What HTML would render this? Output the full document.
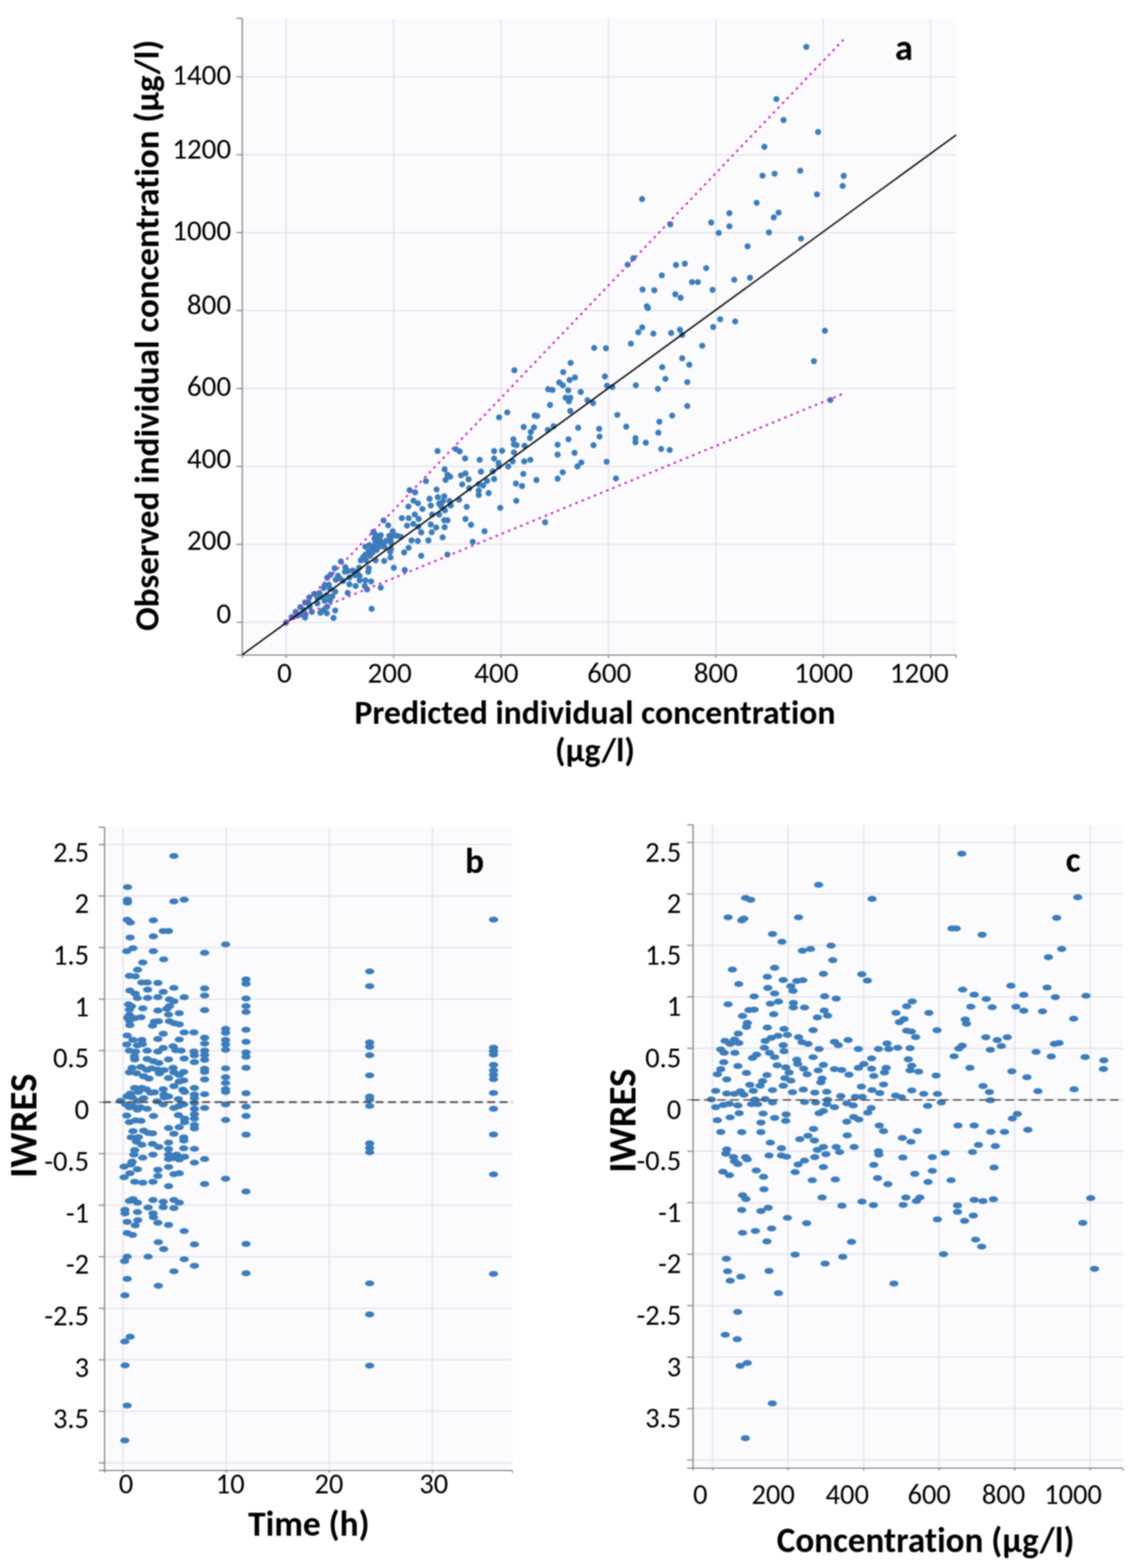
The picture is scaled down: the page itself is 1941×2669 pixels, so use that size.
<!DOCTYPE html>
<html><head><meta charset="utf-8"><title>Figure</title>
<style>html,body{margin:0;padding:0;background:#fff;} svg{display:block;filter:blur(1px);} text{font-family:Carlito, "Liberation Sans", sans-serif;fill:#000;font-variant-ligatures:none;font-feature-settings:'liga' 0;}</style>
</head><body>
<svg xmlns="http://www.w3.org/2000/svg" width="1941" height="2669" viewBox="0 0 1941 2669">
<rect width="1941" height="2669" fill="#fff"/>
<rect x="412.5" y="31" width="1215.5" height="1084" fill="#fbfbfd"/>
<line x1="487.3" y1="31" x2="487.3" y2="1115" stroke="#e2e2e8" stroke-width="2"/>
<line x1="670.2" y1="31" x2="670.2" y2="1115" stroke="#e2e2e8" stroke-width="2"/>
<line x1="853.1" y1="31" x2="853.1" y2="1115" stroke="#e2e2e8" stroke-width="2"/>
<line x1="1035.9" y1="31" x2="1035.9" y2="1115" stroke="#e2e2e8" stroke-width="2"/>
<line x1="1218.8" y1="31" x2="1218.8" y2="1115" stroke="#e2e2e8" stroke-width="2"/>
<line x1="1401.7" y1="31" x2="1401.7" y2="1115" stroke="#e2e2e8" stroke-width="2"/>
<line x1="1584.6" y1="31" x2="1584.6" y2="1115" stroke="#e2e2e8" stroke-width="2"/>
<line x1="412.5" y1="1059.2" x2="1628" y2="1059.2" stroke="#e2e2e8" stroke-width="2"/>
<line x1="412.5" y1="926.6" x2="1628" y2="926.6" stroke="#e2e2e8" stroke-width="2"/>
<line x1="412.5" y1="793.9" x2="1628" y2="793.9" stroke="#e2e2e8" stroke-width="2"/>
<line x1="412.5" y1="661.3" x2="1628" y2="661.3" stroke="#e2e2e8" stroke-width="2"/>
<line x1="412.5" y1="528.6" x2="1628" y2="528.6" stroke="#e2e2e8" stroke-width="2"/>
<line x1="412.5" y1="396.0" x2="1628" y2="396.0" stroke="#e2e2e8" stroke-width="2"/>
<line x1="412.5" y1="263.4" x2="1628" y2="263.4" stroke="#e2e2e8" stroke-width="2"/>
<line x1="412.5" y1="130.7" x2="1628" y2="130.7" stroke="#e2e2e8" stroke-width="2"/>
<line x1="412.5" y1="31" x2="412.5" y2="1115" stroke="#878787" stroke-width="2.2"/>
<line x1="412.5" y1="1115" x2="1628" y2="1115" stroke="#878787" stroke-width="2.2"/>
<line x1="402.5" y1="31.0" x2="412.5" y2="31.0" stroke="#878787" stroke-width="2"/>
<line x1="402.5" y1="1059.2" x2="412.5" y2="1059.2" stroke="#878787" stroke-width="2"/>
<line x1="402.5" y1="926.6" x2="412.5" y2="926.6" stroke="#878787" stroke-width="2"/>
<line x1="402.5" y1="793.9" x2="412.5" y2="793.9" stroke="#878787" stroke-width="2"/>
<line x1="402.5" y1="661.3" x2="412.5" y2="661.3" stroke="#878787" stroke-width="2"/>
<line x1="402.5" y1="528.6" x2="412.5" y2="528.6" stroke="#878787" stroke-width="2"/>
<line x1="402.5" y1="396.0" x2="412.5" y2="396.0" stroke="#878787" stroke-width="2"/>
<line x1="402.5" y1="263.4" x2="412.5" y2="263.4" stroke="#878787" stroke-width="2"/>
<line x1="402.5" y1="130.7" x2="412.5" y2="130.7" stroke="#878787" stroke-width="2"/>
<line x1="402.5" y1="1115.0" x2="412.5" y2="1115.0" stroke="#878787" stroke-width="2"/>
<line x1="412.5" y1="1115" x2="412.5" y2="1120" stroke="#878787" stroke-width="2"/>
<line x1="487.3" y1="1115" x2="487.3" y2="1120" stroke="#878787" stroke-width="2"/>
<line x1="670.2" y1="1115" x2="670.2" y2="1120" stroke="#878787" stroke-width="2"/>
<line x1="853.1" y1="1115" x2="853.1" y2="1120" stroke="#878787" stroke-width="2"/>
<line x1="1035.9" y1="1115" x2="1035.9" y2="1120" stroke="#878787" stroke-width="2"/>
<line x1="1218.8" y1="1115" x2="1218.8" y2="1120" stroke="#878787" stroke-width="2"/>
<line x1="1401.7" y1="1115" x2="1401.7" y2="1120" stroke="#878787" stroke-width="2"/>
<line x1="1584.6" y1="1115" x2="1584.6" y2="1120" stroke="#878787" stroke-width="2"/>
<line x1="1628.0" y1="1115" x2="1628.0" y2="1120" stroke="#878787" stroke-width="2"/>
<g fill="#3c7cba">
<circle cx="486.9" cy="1059.7" r="5.2"/>
<circle cx="496.7" cy="1050.2" r="5.2"/>
<circle cx="503.3" cy="1041.5" r="5.2"/>
<circle cx="511.3" cy="1033.5" r="5.2"/>
<circle cx="519.3" cy="1025.5" r="5.2"/>
<circle cx="526.6" cy="1016.8" r="5.2"/>
<circle cx="519.3" cy="1051.0" r="5.2"/>
<circle cx="520.0" cy="1045.9" r="5.2"/>
<circle cx="530.9" cy="1041.5" r="5.2"/>
<circle cx="527.3" cy="1032.8" r="5.2"/>
<circle cx="534.6" cy="1010.9" r="5.2"/>
<circle cx="540.4" cy="1027.0" r="5.2"/>
<circle cx="544.0" cy="1009.5" r="5.2"/>
<circle cx="551.3" cy="1000.8" r="5.2"/>
<circle cx="552.8" cy="996.4" r="5.2"/>
<circle cx="557.1" cy="983.3" r="5.2"/>
<circle cx="552.8" cy="1022.6" r="5.2"/>
<circle cx="557.1" cy="1032.8" r="5.2"/>
<circle cx="545.5" cy="1043.0" r="5.2"/>
<circle cx="556.4" cy="1043.7" r="5.2"/>
<circle cx="549.9" cy="1038.6" r="5.2"/>
<circle cx="525.1" cy="1025.5" r="5.2"/>
<circle cx="512.0" cy="1045.9" r="5.2"/>
<circle cx="653.1" cy="885.8" r="5.2"/>
<circle cx="660.9" cy="894.1" r="5.2"/>
<circle cx="635.7" cy="905.2" r="5.2"/>
<circle cx="648.3" cy="911.0" r="5.2"/>
<circle cx="668.7" cy="904.3" r="5.2"/>
<circle cx="662.9" cy="912.0" r="5.2"/>
<circle cx="676.4" cy="912.0" r="5.2"/>
<circle cx="637.6" cy="916.9" r="5.2"/>
<circle cx="647.3" cy="921.7" r="5.2"/>
<circle cx="657.0" cy="920.8" r="5.2"/>
<circle cx="622.1" cy="930.5" r="5.2"/>
<circle cx="635.7" cy="930.5" r="5.2"/>
<circle cx="645.4" cy="930.5" r="5.2"/>
<circle cx="653.1" cy="928.5" r="5.2"/>
<circle cx="665.8" cy="934.3" r="5.2"/>
<circle cx="665.8" cy="923.7" r="5.2"/>
<circle cx="627.9" cy="938.2" r="5.2"/>
<circle cx="622.1" cy="944.0" r="5.2"/>
<circle cx="629.9" cy="946.0" r="5.2"/>
<circle cx="614.3" cy="953.7" r="5.2"/>
<circle cx="639.6" cy="953.7" r="5.2"/>
<circle cx="623.1" cy="953.7" r="5.2"/>
<circle cx="664.8" cy="948.9" r="5.2"/>
<circle cx="654.1" cy="954.7" r="5.2"/>
<circle cx="670.6" cy="966.4" r="5.2"/>
<circle cx="689.1" cy="970.2" r="5.2"/>
<circle cx="627.9" cy="967.3" r="5.2"/>
<circle cx="627.0" cy="973.1" r="5.2"/>
<circle cx="611.4" cy="966.4" r="5.2"/>
<circle cx="600.8" cy="971.2" r="5.2"/>
<circle cx="588.1" cy="965.4" r="5.2"/>
<circle cx="587.2" cy="973.1" r="5.2"/>
<circle cx="580.4" cy="955.7" r="5.2"/>
<circle cx="569.7" cy="967.3" r="5.2"/>
<circle cx="562.9" cy="978.0" r="5.2"/>
<circle cx="575.5" cy="979.9" r="5.2"/>
<circle cx="571.6" cy="986.7" r="5.2"/>
<circle cx="584.3" cy="988.7" r="5.2"/>
<circle cx="594.9" cy="982.9" r="5.2"/>
<circle cx="604.6" cy="979.0" r="5.2"/>
<circle cx="612.4" cy="987.7" r="5.2"/>
<circle cx="622.1" cy="987.7" r="5.2"/>
<circle cx="631.8" cy="989.6" r="5.2"/>
<circle cx="594.9" cy="994.5" r="5.2"/>
<circle cx="605.6" cy="997.4" r="5.2"/>
<circle cx="621.1" cy="997.4" r="5.2"/>
<circle cx="625.0" cy="1003.2" r="5.2"/>
<circle cx="648.3" cy="1000.3" r="5.2"/>
<circle cx="592.0" cy="1009.1" r="5.2"/>
<circle cx="570.7" cy="1007.1" r="5.2"/>
<circle cx="565.8" cy="1014.9" r="5.2"/>
<circle cx="561.9" cy="1021.7" r="5.2"/>
<circle cx="570.7" cy="1039.1" r="5.2"/>
<circle cx="567.8" cy="1051.7" r="5.2"/>
<circle cx="632.8" cy="1036.2" r="5.2"/>
<circle cx="695.8" cy="932.4" r="5.2"/>
<circle cx="688.1" cy="940.2" r="5.2"/>
<circle cx="700.7" cy="919.8" r="5.2"/>
<circle cx="711.4" cy="920.8" r="5.2"/>
<circle cx="717.2" cy="946.0" r="5.2"/>
<circle cx="692.9" cy="894.6" r="5.2"/>
<circle cx="703.6" cy="891.6" r="5.2"/>
<circle cx="712.3" cy="896.5" r="5.2"/>
<circle cx="684.2" cy="881.9" r="5.2"/>
<circle cx="695.8" cy="881.9" r="5.2"/>
<circle cx="717.2" cy="906.2" r="5.2"/>
<circle cx="745.0" cy="767.6" r="5.2"/>
<circle cx="776.1" cy="764.4" r="5.2"/>
<circle cx="782.6" cy="768.2" r="5.2"/>
<circle cx="791.9" cy="780.2" r="5.2"/>
<circle cx="757.0" cy="798.8" r="5.2"/>
<circle cx="761.9" cy="808.0" r="5.2"/>
<circle cx="766.3" cy="811.3" r="5.2"/>
<circle cx="758.6" cy="816.8" r="5.2"/>
<circle cx="784.8" cy="809.1" r="5.2"/>
<circle cx="792.5" cy="805.8" r="5.2"/>
<circle cx="797.9" cy="815.7" r="5.2"/>
<circle cx="787.0" cy="824.4" r="5.2"/>
<circle cx="799.0" cy="831.0" r="5.2"/>
<circle cx="725.3" cy="818.9" r="5.2"/>
<circle cx="743.3" cy="833.1" r="5.2"/>
<circle cx="697.5" cy="834.2" r="5.2"/>
<circle cx="706.8" cy="838.0" r="5.2"/>
<circle cx="731.3" cy="849.0" r="5.2"/>
<circle cx="745.5" cy="846.2" r="5.2"/>
<circle cx="756.4" cy="844.6" r="5.2"/>
<circle cx="754.3" cy="852.8" r="5.2"/>
<circle cx="747.7" cy="857.2" r="5.2"/>
<circle cx="751.0" cy="861.5" r="5.2"/>
<circle cx="765.2" cy="852.8" r="5.2"/>
<circle cx="767.4" cy="860.4" r="5.2"/>
<circle cx="781.6" cy="850.6" r="5.2"/>
<circle cx="794.7" cy="862.6" r="5.2"/>
<circle cx="704.1" cy="852.2" r="5.2"/>
<circle cx="711.7" cy="856.6" r="5.2"/>
<circle cx="695.3" cy="862.1" r="5.2"/>
<circle cx="719.3" cy="866.4" r="5.2"/>
<circle cx="733.5" cy="860.4" r="5.2"/>
<circle cx="757.5" cy="868.6" r="5.2"/>
<circle cx="735.7" cy="875.7" r="5.2"/>
<circle cx="747.7" cy="875.7" r="5.2"/>
<circle cx="706.2" cy="875.7" r="5.2"/>
<circle cx="712.8" cy="883.3" r="5.2"/>
<circle cx="756.4" cy="885.5" r="5.2"/>
<circle cx="761.9" cy="885.5" r="5.2"/>
<circle cx="792.5" cy="883.3" r="5.2"/>
<circle cx="733.4" cy="892.7" r="5.2"/>
<circle cx="742.7" cy="897.9" r="5.2"/>
<circle cx="757.1" cy="897.3" r="5.2"/>
<circle cx="735.2" cy="905.9" r="5.2"/>
<circle cx="729.4" cy="919.8" r="5.2"/>
<circle cx="753.6" cy="914.6" r="5.2"/>
<circle cx="802.0" cy="893.3" r="5.2"/>
<circle cx="825.0" cy="904.2" r="5.2"/>
<circle cx="804.9" cy="922.1" r="5.2"/>
<circle cx="761.7" cy="943.9" r="5.2"/>
<circle cx="874.1" cy="747.6" r="5.2"/>
<circle cx="875.1" cy="756.4" r="5.2"/>
<circle cx="879.5" cy="757.5" r="5.2"/>
<circle cx="902.4" cy="745.5" r="5.2"/>
<circle cx="893.2" cy="758.6" r="5.2"/>
<circle cx="949.4" cy="756.9" r="5.2"/>
<circle cx="967.9" cy="747.6" r="5.2"/>
<circle cx="949.4" cy="773.8" r="5.2"/>
<circle cx="841.3" cy="767.8" r="5.2"/>
<circle cx="854.9" cy="767.3" r="5.2"/>
<circle cx="875.1" cy="770.0" r="5.2"/>
<circle cx="816.7" cy="782.6" r="5.2"/>
<circle cx="841.3" cy="780.4" r="5.2"/>
<circle cx="848.9" cy="788.0" r="5.2"/>
<circle cx="849.5" cy="793.5" r="5.2"/>
<circle cx="873.0" cy="785.3" r="5.2"/>
<circle cx="892.6" cy="785.3" r="5.2"/>
<circle cx="903.0" cy="782.6" r="5.2"/>
<circle cx="865.3" cy="794.0" r="5.2"/>
<circle cx="818.9" cy="802.8" r="5.2"/>
<circle cx="839.1" cy="802.2" r="5.2"/>
<circle cx="829.3" cy="818.6" r="5.2"/>
<circle cx="841.3" cy="815.3" r="5.2"/>
<circle cx="822.7" cy="826.2" r="5.2"/>
<circle cx="815.1" cy="824.1" r="5.2"/>
<circle cx="815.1" cy="835.0" r="5.2"/>
<circle cx="815.1" cy="842.6" r="5.2"/>
<circle cx="832.0" cy="839.3" r="5.2"/>
<circle cx="891.0" cy="806.6" r="5.2"/>
<circle cx="913.3" cy="817.0" r="5.2"/>
<circle cx="878.4" cy="823.0" r="5.2"/>
<circle cx="888.8" cy="827.3" r="5.2"/>
<circle cx="958.1" cy="803.9" r="5.2"/>
<circle cx="949.4" cy="814.8" r="5.2"/>
<circle cx="879.0" cy="852.4" r="5.2"/>
<circle cx="851.7" cy="864.4" r="5.2"/>
<circle cx="928.1" cy="889.0" r="5.2"/>
<circle cx="875.8" cy="630.3" r="5.2"/>
<circle cx="971.6" cy="617.6" r="5.2"/>
<circle cx="958.9" cy="633.4" r="5.2"/>
<circle cx="978.9" cy="642.5" r="5.2"/>
<circle cx="969.8" cy="646.7" r="5.2"/>
<circle cx="952.2" cy="651.0" r="5.2"/>
<circle cx="958.3" cy="655.8" r="5.2"/>
<circle cx="933.4" cy="662.5" r="5.2"/>
<circle cx="940.7" cy="663.7" r="5.2"/>
<circle cx="967.4" cy="664.3" r="5.2"/>
<circle cx="963.1" cy="677.0" r="5.2"/>
<circle cx="971.0" cy="677.0" r="5.2"/>
<circle cx="968.6" cy="683.1" r="5.2"/>
<circle cx="936.5" cy="689.2" r="5.2"/>
<circle cx="971.0" cy="699.5" r="5.2"/>
<circle cx="863.7" cy="701.9" r="5.2"/>
<circle cx="849.7" cy="710.4" r="5.2"/>
<circle cx="910.4" cy="707.3" r="5.2"/>
<circle cx="914.6" cy="708.0" r="5.2"/>
<circle cx="891.6" cy="726.8" r="5.2"/>
<circle cx="909.2" cy="727.4" r="5.2"/>
<circle cx="903.7" cy="735.2" r="5.2"/>
<circle cx="942.5" cy="725.5" r="5.2"/>
<circle cx="932.8" cy="731.6" r="5.2"/>
<circle cx="669.7" cy="911.2" r="5.2"/>
<circle cx="682.5" cy="913.7" r="5.2"/>
<circle cx="638.8" cy="910.0" r="5.2"/>
<circle cx="639.4" cy="922.7" r="5.2"/>
<circle cx="629.1" cy="927.6" r="5.2"/>
<circle cx="634.0" cy="934.9" r="5.2"/>
<circle cx="641.2" cy="936.1" r="5.2"/>
<circle cx="664.3" cy="939.1" r="5.2"/>
<circle cx="634.0" cy="940.9" r="5.2"/>
<circle cx="618.2" cy="948.2" r="5.2"/>
<circle cx="560.0" cy="995.2" r="5.2"/>
<circle cx="561.9" cy="1002.4" r="5.2"/>
<circle cx="546.7" cy="1015.8" r="5.2"/>
<circle cx="556.4" cy="1013.4" r="5.2"/>
<circle cx="517.6" cy="1038.2" r="5.2"/>
<circle cx="506.1" cy="1047.9" r="5.2"/>
<circle cx="540.6" cy="1018.2" r="5.2"/>
<circle cx="1086.9" cy="565.5" r="5.2"/>
<circle cx="1112.4" cy="567.9" r="5.2"/>
<circle cx="1142.7" cy="566.7" r="5.2"/>
<circle cx="1161.5" cy="569.7" r="5.2"/>
<circle cx="1074.2" cy="584.9" r="5.2"/>
<circle cx="1011.7" cy="592.1" r="5.2"/>
<circle cx="1031.7" cy="592.7" r="5.2"/>
<circle cx="1161.5" cy="609.7" r="5.2"/>
<circle cx="1127.5" cy="624.9" r="5.2"/>
<circle cx="1133.0" cy="644.9" r="5.2"/>
<circle cx="1029.9" cy="640.7" r="5.2"/>
<circle cx="1033.5" cy="656.4" r="5.2"/>
<circle cx="1042.6" cy="658.8" r="5.2"/>
<circle cx="1082.6" cy="655.8" r="5.2"/>
<circle cx="1120.2" cy="661.9" r="5.2"/>
<circle cx="988.7" cy="667.3" r="5.2"/>
<circle cx="1000.2" cy="681.3" r="5.2"/>
<circle cx="1009.9" cy="686.1" r="5.2"/>
<circle cx="1051.1" cy="706.1" r="5.2"/>
<circle cx="1144.5" cy="707.4" r="5.2"/>
<circle cx="1122.7" cy="717.7" r="5.2"/>
<circle cx="1066.3" cy="726.2" r="5.2"/>
<circle cx="984.4" cy="728.0" r="5.2"/>
<circle cx="1020.2" cy="729.8" r="5.2"/>
<circle cx="1020.8" cy="743.1" r="5.2"/>
<circle cx="1120.9" cy="736.5" r="5.2"/>
<circle cx="1082.0" cy="745.6" r="5.2"/>
<circle cx="1082.0" cy="752.8" r="5.2"/>
<circle cx="1099.6" cy="753.5" r="5.2"/>
<circle cx="1010.5" cy="757.7" r="5.2"/>
<circle cx="978.3" cy="770.8" r="5.2"/>
<circle cx="989.9" cy="787.1" r="5.2"/>
<circle cx="983.2" cy="793.8" r="5.2"/>
<circle cx="1032.9" cy="785.9" r="5.2"/>
<circle cx="1048.7" cy="814.4" r="5.2"/>
<circle cx="1125.7" cy="764.1" r="5.2"/>
<circle cx="1140.3" cy="765.9" r="5.2"/>
<circle cx="1141.3" cy="381.8" r="5.2"/>
<circle cx="1078.3" cy="439.4" r="5.2"/>
<circle cx="1068.6" cy="450.4" r="5.2"/>
<circle cx="1151.0" cy="451.0" r="5.2"/>
<circle cx="1126.8" cy="468.6" r="5.2"/>
<circle cx="1094.0" cy="492.8" r="5.2"/>
<circle cx="1114.0" cy="494.0" r="5.2"/>
<circle cx="1149.8" cy="500.7" r="5.2"/>
<circle cx="1158.9" cy="506.8" r="5.2"/>
<circle cx="1101.3" cy="521.3" r="5.2"/>
<circle cx="1103.1" cy="524.3" r="5.2"/>
<circle cx="1093.4" cy="557.1" r="5.2"/>
<circle cx="1157.7" cy="561.3" r="5.2"/>
<circle cx="1226.2" cy="543.4" r="5.2"/>
<circle cx="1251.7" cy="547.1" r="5.2"/>
<circle cx="1214.3" cy="556.6" r="5.2"/>
<circle cx="1195.7" cy="588.4" r="5.2"/>
<circle cx="1404.5" cy="562.9" r="5.2"/>
<circle cx="1173.6" cy="620.7" r="5.2"/>
<circle cx="1385.8" cy="614.7" r="5.2"/>
<circle cx="1170.2" cy="650.4" r="5.2"/>
<circle cx="1170.2" cy="691.1" r="5.2"/>
<circle cx="1413.9" cy="680.9" r="5.2"/>
<circle cx="1434.7" cy="316.4" r="5.2"/>
<circle cx="1391.0" cy="330.9" r="5.2"/>
<circle cx="1288.3" cy="345.1" r="5.2"/>
<circle cx="1241.9" cy="362.8" r="5.2"/>
<circle cx="1325.6" cy="361.9" r="5.2"/>
<circle cx="1317.4" cy="370.0" r="5.2"/>
<circle cx="1210.9" cy="378.8" r="5.2"/>
<circle cx="1241.9" cy="385.1" r="5.2"/>
<circle cx="1223.7" cy="396.4" r="5.2"/>
<circle cx="1309.2" cy="395.5" r="5.2"/>
<circle cx="1363.8" cy="406.1" r="5.2"/>
<circle cx="1272.8" cy="419.2" r="5.2"/>
<circle cx="1166.0" cy="448.8" r="5.2"/>
<circle cx="1202.4" cy="456.4" r="5.2"/>
<circle cx="1178.2" cy="480.1" r="5.2"/>
<circle cx="1188.2" cy="480.1" r="5.2"/>
<circle cx="1250.1" cy="476.1" r="5.2"/>
<circle cx="1277.0" cy="472.8" r="5.2"/>
<circle cx="1213.3" cy="493.2" r="5.2"/>
<circle cx="1372.8" cy="79.7" r="5.2"/>
<circle cx="1321.9" cy="168.6" r="5.2"/>
<circle cx="1334.1" cy="204.3" r="5.2"/>
<circle cx="1392.9" cy="224.6" r="5.2"/>
<circle cx="1301.4" cy="249.7" r="5.2"/>
<circle cx="1362.5" cy="290.5" r="5.2"/>
<circle cx="1318.8" cy="295.6" r="5.2"/>
<circle cx="1298.3" cy="298.9" r="5.2"/>
<circle cx="1436.5" cy="299.2" r="5.2"/>
<circle cx="1093.2" cy="338.7" r="5.2"/>
<circle cx="592.6" cy="971.7" r="5.2"/>
<circle cx="607.9" cy="973.4" r="5.2"/>
<circle cx="578.2" cy="984.4" r="5.2"/>
<circle cx="612.2" cy="980.2" r="5.2"/>
<circle cx="654.6" cy="930.9" r="5.2"/>
<circle cx="646.1" cy="915.7" r="5.2"/>
<circle cx="665.6" cy="915.7" r="5.2"/>
</g>
<line x1="412.5" y1="1114.5" x2="1628" y2="229.7" stroke="#0a0a0a" stroke-width="2.6"/>
<line x1="488.3" y1="1058.5" x2="1436" y2="67.7" stroke="#c828c8" stroke-width="3.3" stroke-dasharray="4.3 7.0"/>
<line x1="488.3" y1="1058.5" x2="1433.6" y2="671" stroke="#c828c8" stroke-width="3.3" stroke-dasharray="4.3 7.0"/>
<text x="393.5" y="144" font-size="49.5" text-anchor="end" textLength="100.36" lengthAdjust="spacingAndGlyphs">1400</text>
<text x="393.5" y="270" font-size="49.5" text-anchor="end" textLength="100.36" lengthAdjust="spacingAndGlyphs">1200</text>
<text x="393.5" y="409" font-size="49.5" text-anchor="end" textLength="100.36" lengthAdjust="spacingAndGlyphs">1000</text>
<text x="393.5" y="534.5" font-size="49.5" text-anchor="end" textLength="75.27" lengthAdjust="spacingAndGlyphs">800</text>
<text x="393.5" y="673.5" font-size="49.5" text-anchor="end" textLength="75.27" lengthAdjust="spacingAndGlyphs">600</text>
<text x="393.5" y="797" font-size="49.5" text-anchor="end" textLength="75.27" lengthAdjust="spacingAndGlyphs">400</text>
<text x="393.5" y="936" font-size="49.5" text-anchor="end" textLength="75.27" lengthAdjust="spacingAndGlyphs">200</text>
<text x="393.5" y="1060.5" font-size="49.5" text-anchor="end" textLength="25.09" lengthAdjust="spacingAndGlyphs">0</text>
<text x="484.2" y="1162" font-size="49.5" text-anchor="middle" textLength="25.09" lengthAdjust="spacingAndGlyphs">0</text>
<text x="663.4" y="1162" font-size="49.5" text-anchor="middle" textLength="75.27" lengthAdjust="spacingAndGlyphs">200</text>
<text x="845.1" y="1162" font-size="49.5" text-anchor="middle" textLength="75.27" lengthAdjust="spacingAndGlyphs">400</text>
<text x="1037.3" y="1162" font-size="49.5" text-anchor="middle" textLength="75.27" lengthAdjust="spacingAndGlyphs">600</text>
<text x="1218.8" y="1162" font-size="49.5" text-anchor="middle" textLength="75.27" lengthAdjust="spacingAndGlyphs">800</text>
<text x="1402.3" y="1162" font-size="49.5" text-anchor="middle" textLength="100.36" lengthAdjust="spacingAndGlyphs">1000</text>
<text x="1565.2" y="1162" font-size="49.5" text-anchor="middle" textLength="100.36" lengthAdjust="spacingAndGlyphs">1200</text>
<text x="1013" y="1231.6" font-size="57.4" text-anchor="middle" font-weight="bold" textLength="819.03" lengthAdjust="spacingAndGlyphs">Predicted individual concentration</text>
<text x="1013" y="1296" font-size="57.5" text-anchor="middle" font-weight="bold" textLength="136.02" lengthAdjust="spacingAndGlyphs">(µg/l)</text>
<text transform="translate(270,570.85) rotate(-90)" x="0" y="0" font-size="59.6" font-weight="bold" text-anchor="middle" textLength="1006.30" lengthAdjust="spacingAndGlyphs">Observed individual concentration (µg/l)</text>
<text x="1539" y="102" font-size="62" text-anchor="middle" font-weight="bold" textLength="30.61" lengthAdjust="spacingAndGlyphs">a</text>
<rect x="178" y="1408" width="694.5" height="1095" fill="#fbfbfd"/>
<line x1="209.5" y1="1408" x2="209.5" y2="2503" stroke="#e2e2e8" stroke-width="2"/>
<line x1="385.1" y1="1408" x2="385.1" y2="2503" stroke="#e2e2e8" stroke-width="2"/>
<line x1="560.7" y1="1408" x2="560.7" y2="2503" stroke="#e2e2e8" stroke-width="2"/>
<line x1="736.3" y1="1408" x2="736.3" y2="2503" stroke="#e2e2e8" stroke-width="2"/>
<line x1="178" y1="1437.6" x2="872.5" y2="1437.6" stroke="#e2e2e8" stroke-width="2"/>
<line x1="178" y1="1525.3" x2="872.5" y2="1525.3" stroke="#e2e2e8" stroke-width="2"/>
<line x1="178" y1="1613.0" x2="872.5" y2="1613.0" stroke="#e2e2e8" stroke-width="2"/>
<line x1="178" y1="1700.7" x2="872.5" y2="1700.7" stroke="#e2e2e8" stroke-width="2"/>
<line x1="178" y1="1788.4" x2="872.5" y2="1788.4" stroke="#e2e2e8" stroke-width="2"/>
<line x1="178" y1="1876.1" x2="872.5" y2="1876.1" stroke="#e2e2e8" stroke-width="2"/>
<line x1="178" y1="1963.8" x2="872.5" y2="1963.8" stroke="#e2e2e8" stroke-width="2"/>
<line x1="178" y1="2051.5" x2="872.5" y2="2051.5" stroke="#e2e2e8" stroke-width="2"/>
<line x1="178" y1="2139.2" x2="872.5" y2="2139.2" stroke="#e2e2e8" stroke-width="2"/>
<line x1="178" y1="2226.9" x2="872.5" y2="2226.9" stroke="#e2e2e8" stroke-width="2"/>
<line x1="178" y1="2314.6" x2="872.5" y2="2314.6" stroke="#e2e2e8" stroke-width="2"/>
<line x1="178" y1="2402.3" x2="872.5" y2="2402.3" stroke="#e2e2e8" stroke-width="2"/>
<line x1="178" y1="2490.0" x2="872.5" y2="2490.0" stroke="#e2e2e8" stroke-width="2"/>
<line x1="178" y1="1408" x2="178" y2="2503" stroke="#878787" stroke-width="2.2"/>
<line x1="178" y1="2503" x2="872.5" y2="2503" stroke="#878787" stroke-width="2.2"/>
<line x1="168" y1="1408.0" x2="178" y2="1408.0" stroke="#878787" stroke-width="2"/>
<line x1="168" y1="1437.6" x2="178" y2="1437.6" stroke="#878787" stroke-width="2"/>
<line x1="168" y1="1525.3" x2="178" y2="1525.3" stroke="#878787" stroke-width="2"/>
<line x1="168" y1="1613.0" x2="178" y2="1613.0" stroke="#878787" stroke-width="2"/>
<line x1="168" y1="1700.7" x2="178" y2="1700.7" stroke="#878787" stroke-width="2"/>
<line x1="168" y1="1788.4" x2="178" y2="1788.4" stroke="#878787" stroke-width="2"/>
<line x1="168" y1="1876.1" x2="178" y2="1876.1" stroke="#878787" stroke-width="2"/>
<line x1="168" y1="1963.8" x2="178" y2="1963.8" stroke="#878787" stroke-width="2"/>
<line x1="168" y1="2051.5" x2="178" y2="2051.5" stroke="#878787" stroke-width="2"/>
<line x1="168" y1="2139.2" x2="178" y2="2139.2" stroke="#878787" stroke-width="2"/>
<line x1="168" y1="2226.9" x2="178" y2="2226.9" stroke="#878787" stroke-width="2"/>
<line x1="168" y1="2314.6" x2="178" y2="2314.6" stroke="#878787" stroke-width="2"/>
<line x1="168" y1="2402.3" x2="178" y2="2402.3" stroke="#878787" stroke-width="2"/>
<line x1="168" y1="2490.0" x2="178" y2="2490.0" stroke="#878787" stroke-width="2"/>
<line x1="168" y1="2503.0" x2="178" y2="2503.0" stroke="#878787" stroke-width="2"/>
<line x1="178.0" y1="2503" x2="178.0" y2="2507" stroke="#878787" stroke-width="2"/>
<line x1="209.5" y1="2503" x2="209.5" y2="2507" stroke="#878787" stroke-width="2"/>
<line x1="385.1" y1="2503" x2="385.1" y2="2507" stroke="#878787" stroke-width="2"/>
<line x1="560.7" y1="2503" x2="560.7" y2="2507" stroke="#878787" stroke-width="2"/>
<line x1="736.3" y1="2503" x2="736.3" y2="2507" stroke="#878787" stroke-width="2"/>
<line x1="872.5" y1="2503" x2="872.5" y2="2507" stroke="#878787" stroke-width="2"/>
<g fill="#3c7cba">
<ellipse cx="296.1" cy="1457.0" rx="7.9" ry="5.1"/>
<ellipse cx="217.3" cy="1510.0" rx="7.9" ry="5.1"/>
<ellipse cx="217.0" cy="1531.7" rx="7.9" ry="5.1"/>
<ellipse cx="217.0" cy="1536.3" rx="7.9" ry="5.1"/>
<ellipse cx="296.1" cy="1534.3" rx="7.9" ry="5.1"/>
<ellipse cx="313.6" cy="1531.3" rx="7.9" ry="5.1"/>
<ellipse cx="216.5" cy="1565.5" rx="7.9" ry="5.1"/>
<ellipse cx="221.8" cy="1570.4" rx="7.9" ry="5.1"/>
<ellipse cx="261.0" cy="1566.6" rx="7.9" ry="5.1"/>
<ellipse cx="277.9" cy="1584.8" rx="7.9" ry="5.1"/>
<ellipse cx="287.0" cy="1584.8" rx="7.9" ry="5.1"/>
<ellipse cx="221.5" cy="1595.9" rx="7.9" ry="5.1"/>
<ellipse cx="261.0" cy="1593.9" rx="7.9" ry="5.1"/>
<ellipse cx="226.4" cy="1614.0" rx="7.9" ry="5.1"/>
<ellipse cx="215.8" cy="1619.2" rx="7.9" ry="5.1"/>
<ellipse cx="261.0" cy="1619.2" rx="7.9" ry="5.1"/>
<ellipse cx="348.4" cy="1621.9" rx="7.9" ry="5.1"/>
<ellipse cx="384.1" cy="1607.5" rx="7.9" ry="5.1"/>
<ellipse cx="278.7" cy="1633.0" rx="7.9" ry="5.1"/>
<ellipse cx="243.1" cy="1638.3" rx="7.9" ry="5.1"/>
<ellipse cx="234.3" cy="1650.7" rx="7.9" ry="5.1"/>
<ellipse cx="220.3" cy="1661.1" rx="7.9" ry="5.1"/>
<ellipse cx="230.2" cy="1661.8" rx="7.9" ry="5.1"/>
<ellipse cx="241.5" cy="1672.4" rx="7.9" ry="5.1"/>
<ellipse cx="250.6" cy="1672.4" rx="7.9" ry="5.1"/>
<ellipse cx="268.8" cy="1673.2" rx="7.9" ry="5.1"/>
<ellipse cx="296.1" cy="1681.5" rx="7.9" ry="5.1"/>
<ellipse cx="348.4" cy="1682.3" rx="7.9" ry="5.1"/>
<ellipse cx="348.4" cy="1694.7" rx="7.9" ry="5.1"/>
<ellipse cx="418.9" cy="1667.1" rx="7.9" ry="5.1"/>
<ellipse cx="418.9" cy="1674.7" rx="7.9" ry="5.1"/>
<ellipse cx="221.1" cy="1686.1" rx="7.9" ry="5.1"/>
<ellipse cx="230.2" cy="1691.4" rx="7.9" ry="5.1"/>
<ellipse cx="234.0" cy="1699.0" rx="7.9" ry="5.1"/>
<ellipse cx="251.4" cy="1684.6" rx="7.9" ry="5.1"/>
<ellipse cx="251.4" cy="1698.7" rx="7.9" ry="5.1"/>
<ellipse cx="268.8" cy="1697.4" rx="7.9" ry="5.1"/>
<ellipse cx="277.9" cy="1688.4" rx="7.9" ry="5.1"/>
<ellipse cx="313.6" cy="1697.4" rx="7.9" ry="5.1"/>
<ellipse cx="288.5" cy="1701.2" rx="7.9" ry="5.1"/>
<ellipse cx="296.1" cy="1704.3" rx="7.9" ry="5.1"/>
<ellipse cx="418.9" cy="1699.7" rx="7.9" ry="5.1"/>
<ellipse cx="418.9" cy="1712.6" rx="7.9" ry="5.1"/>
<ellipse cx="418.9" cy="1722.5" rx="7.9" ry="5.1"/>
<ellipse cx="348.4" cy="1719.4" rx="7.9" ry="5.1"/>
<ellipse cx="218.8" cy="1709.6" rx="7.9" ry="5.1"/>
<ellipse cx="220.3" cy="1718.7" rx="7.9" ry="5.1"/>
<ellipse cx="220.3" cy="1727.8" rx="7.9" ry="5.1"/>
<ellipse cx="243.1" cy="1716.4" rx="7.9" ry="5.1"/>
<ellipse cx="268.8" cy="1720.2" rx="7.9" ry="5.1"/>
<ellipse cx="284.0" cy="1717.2" rx="7.9" ry="5.1"/>
<ellipse cx="288.5" cy="1712.6" rx="7.9" ry="5.1"/>
<ellipse cx="287.0" cy="1727.0" rx="7.9" ry="5.1"/>
<ellipse cx="305.2" cy="1724.7" rx="7.9" ry="5.1"/>
<ellipse cx="217.3" cy="1732.3" rx="7.9" ry="5.1"/>
<ellipse cx="240.0" cy="1731.6" rx="7.9" ry="5.1"/>
<ellipse cx="229.4" cy="1733.1" rx="7.9" ry="5.1"/>
<ellipse cx="221.1" cy="1745.2" rx="7.9" ry="5.1"/>
<ellipse cx="262.8" cy="1739.1" rx="7.9" ry="5.1"/>
<ellipse cx="259.7" cy="1746.0" rx="7.9" ry="5.1"/>
<ellipse cx="288.5" cy="1738.4" rx="7.9" ry="5.1"/>
<ellipse cx="305.2" cy="1743.7" rx="7.9" ry="5.1"/>
<ellipse cx="384.1" cy="1751.3" rx="7.9" ry="5.1"/>
<ellipse cx="384.1" cy="1758.1" rx="7.9" ry="5.1"/>
<ellipse cx="418.9" cy="1752.8" rx="7.9" ry="5.1"/>
<ellipse cx="277.9" cy="1759.6" rx="7.9" ry="5.1"/>
<ellipse cx="313.6" cy="1757.3" rx="7.9" ry="5.1"/>
<ellipse cx="330.2" cy="1757.3" rx="7.9" ry="5.1"/>
<ellipse cx="216.5" cy="1762.6" rx="7.9" ry="5.1"/>
<ellipse cx="226.4" cy="1770.2" rx="7.9" ry="5.1"/>
<ellipse cx="241.5" cy="1770.2" rx="7.9" ry="5.1"/>
<ellipse cx="215.8" cy="1777.8" rx="7.9" ry="5.1"/>
<ellipse cx="234.0" cy="1779.3" rx="7.9" ry="5.1"/>
<ellipse cx="268.8" cy="1768.7" rx="7.9" ry="5.1"/>
<ellipse cx="305.2" cy="1769.5" rx="7.9" ry="5.1"/>
<ellipse cx="348.4" cy="1766.4" rx="7.9" ry="5.1"/>
<ellipse cx="348.4" cy="1776.3" rx="7.9" ry="5.1"/>
<ellipse cx="384.1" cy="1770.2" rx="7.9" ry="5.1"/>
<ellipse cx="384.1" cy="1777.8" rx="7.9" ry="5.1"/>
<ellipse cx="418.9" cy="1773.3" rx="7.9" ry="5.1"/>
<ellipse cx="277.9" cy="1783.9" rx="7.9" ry="5.1"/>
<ellipse cx="294.6" cy="1780.8" rx="7.9" ry="5.1"/>
<ellipse cx="268.8" cy="1789.9" rx="7.9" ry="5.1"/>
<ellipse cx="308.3" cy="1788.4" rx="7.9" ry="5.1"/>
<ellipse cx="220.3" cy="1788.4" rx="7.9" ry="5.1"/>
<ellipse cx="250.6" cy="1788.4" rx="7.9" ry="5.1"/>
<ellipse cx="384.1" cy="1786.9" rx="7.9" ry="5.1"/>
<ellipse cx="348.4" cy="1788.4" rx="7.9" ry="5.1"/>
<ellipse cx="330.2" cy="1789.9" rx="7.9" ry="5.1"/>
<ellipse cx="418.9" cy="1791.4" rx="7.9" ry="5.1"/>
<ellipse cx="228.7" cy="1798.0" rx="7.9" ry="5.1"/>
<ellipse cx="229.4" cy="1803.3" rx="7.9" ry="5.1"/>
<ellipse cx="250.6" cy="1802.6" rx="7.9" ry="5.1"/>
<ellipse cx="261.3" cy="1806.4" rx="7.9" ry="5.1"/>
<ellipse cx="270.4" cy="1809.4" rx="7.9" ry="5.1"/>
<ellipse cx="287.0" cy="1803.3" rx="7.9" ry="5.1"/>
<ellipse cx="313.6" cy="1801.8" rx="7.9" ry="5.1"/>
<ellipse cx="331.0" cy="1796.5" rx="7.9" ry="5.1"/>
<ellipse cx="331.0" cy="1807.9" rx="7.9" ry="5.1"/>
<ellipse cx="348.4" cy="1795.8" rx="7.9" ry="5.1"/>
<ellipse cx="348.4" cy="1804.1" rx="7.9" ry="5.1"/>
<ellipse cx="418.9" cy="1798.8" rx="7.9" ry="5.1"/>
<ellipse cx="418.9" cy="1817.7" rx="7.9" ry="5.1"/>
<ellipse cx="348.4" cy="1819.3" rx="7.9" ry="5.1"/>
<ellipse cx="348.4" cy="1824.6" rx="7.9" ry="5.1"/>
<ellipse cx="348.4" cy="1837.4" rx="7.9" ry="5.1"/>
<ellipse cx="384.1" cy="1818.5" rx="7.9" ry="5.1"/>
<ellipse cx="384.1" cy="1833.7" rx="7.9" ry="5.1"/>
<ellipse cx="384.1" cy="1843.5" rx="7.9" ry="5.1"/>
<ellipse cx="384.1" cy="1854.1" rx="7.9" ry="5.1"/>
<ellipse cx="384.1" cy="1858.7" rx="7.9" ry="5.1"/>
<ellipse cx="224.9" cy="1817.7" rx="7.9" ry="5.1"/>
<ellipse cx="240.0" cy="1816.2" rx="7.9" ry="5.1"/>
<ellipse cx="220.3" cy="1825.3" rx="7.9" ry="5.1"/>
<ellipse cx="232.4" cy="1826.8" rx="7.9" ry="5.1"/>
<ellipse cx="258.2" cy="1818.5" rx="7.9" ry="5.1"/>
<ellipse cx="268.8" cy="1820.8" rx="7.9" ry="5.1"/>
<ellipse cx="279.4" cy="1821.5" rx="7.9" ry="5.1"/>
<ellipse cx="294.6" cy="1817.7" rx="7.9" ry="5.1"/>
<ellipse cx="296.1" cy="1825.3" rx="7.9" ry="5.1"/>
<ellipse cx="312.8" cy="1824.6" rx="7.9" ry="5.1"/>
<ellipse cx="305.2" cy="1829.9" rx="7.9" ry="5.1"/>
<ellipse cx="244.6" cy="1832.1" rx="7.9" ry="5.1"/>
<ellipse cx="253.7" cy="1835.9" rx="7.9" ry="5.1"/>
<ellipse cx="287.0" cy="1835.2" rx="7.9" ry="5.1"/>
<ellipse cx="312.8" cy="1839.0" rx="7.9" ry="5.1"/>
<ellipse cx="305.2" cy="1841.2" rx="7.9" ry="5.1"/>
<ellipse cx="296.1" cy="1848.8" rx="7.9" ry="5.1"/>
<ellipse cx="311.3" cy="1854.9" rx="7.9" ry="5.1"/>
<ellipse cx="314.3" cy="1858.7" rx="7.9" ry="5.1"/>
<ellipse cx="331.0" cy="1851.9" rx="7.9" ry="5.1"/>
<ellipse cx="229.4" cy="1851.9" rx="7.9" ry="5.1"/>
<ellipse cx="241.5" cy="1851.9" rx="7.9" ry="5.1"/>
<ellipse cx="221.8" cy="1861.7" rx="7.9" ry="5.1"/>
<ellipse cx="235.5" cy="1858.7" rx="7.9" ry="5.1"/>
<ellipse cx="256.7" cy="1860.2" rx="7.9" ry="5.1"/>
<ellipse cx="277.9" cy="1854.1" rx="7.9" ry="5.1"/>
<ellipse cx="279.4" cy="1863.2" rx="7.9" ry="5.1"/>
<ellipse cx="287.0" cy="1866.3" rx="7.9" ry="5.1"/>
<ellipse cx="224.9" cy="1867.8" rx="7.9" ry="5.1"/>
<ellipse cx="244.6" cy="1869.3" rx="7.9" ry="5.1"/>
<ellipse cx="331.0" cy="1863.2" rx="7.9" ry="5.1"/>
<ellipse cx="331.0" cy="1869.3" rx="7.9" ry="5.1"/>
<ellipse cx="348.4" cy="1862.5" rx="7.9" ry="5.1"/>
<ellipse cx="418.9" cy="1860.9" rx="7.9" ry="5.1"/>
<ellipse cx="205.2" cy="1873.8" rx="7.9" ry="5.1"/>
<ellipse cx="214.3" cy="1879.9" rx="7.9" ry="5.1"/>
<ellipse cx="226.4" cy="1882.9" rx="7.9" ry="5.1"/>
<ellipse cx="235.5" cy="1873.8" rx="7.9" ry="5.1"/>
<ellipse cx="267.3" cy="1874.6" rx="7.9" ry="5.1"/>
<ellipse cx="277.9" cy="1879.9" rx="7.9" ry="5.1"/>
<ellipse cx="303.7" cy="1870.8" rx="7.9" ry="5.1"/>
<ellipse cx="312.8" cy="1879.9" rx="7.9" ry="5.1"/>
<ellipse cx="296.1" cy="1886.0" rx="7.9" ry="5.1"/>
<ellipse cx="331.0" cy="1877.6" rx="7.9" ry="5.1"/>
<ellipse cx="331.0" cy="1887.5" rx="7.9" ry="5.1"/>
<ellipse cx="348.4" cy="1886.0" rx="7.9" ry="5.1"/>
<ellipse cx="384.1" cy="1879.9" rx="7.9" ry="5.1"/>
<ellipse cx="418.9" cy="1883.7" rx="7.9" ry="5.1"/>
<ellipse cx="234.0" cy="1889.0" rx="7.9" ry="5.1"/>
<ellipse cx="250.6" cy="1887.5" rx="7.9" ry="5.1"/>
<ellipse cx="215.8" cy="1898.9" rx="7.9" ry="5.1"/>
<ellipse cx="261.3" cy="1899.6" rx="7.9" ry="5.1"/>
<ellipse cx="303.7" cy="1898.1" rx="7.9" ry="5.1"/>
<ellipse cx="314.3" cy="1904.2" rx="7.9" ry="5.1"/>
<ellipse cx="314.3" cy="1910.2" rx="7.9" ry="5.1"/>
<ellipse cx="331.0" cy="1896.6" rx="7.9" ry="5.1"/>
<ellipse cx="331.0" cy="1904.2" rx="7.9" ry="5.1"/>
<ellipse cx="418.9" cy="1899.6" rx="7.9" ry="5.1"/>
<ellipse cx="384.1" cy="1906.4" rx="7.9" ry="5.1"/>
<ellipse cx="220.3" cy="1910.2" rx="7.9" ry="5.1"/>
<ellipse cx="240.0" cy="1907.9" rx="7.9" ry="5.1"/>
<ellipse cx="230.9" cy="1907.2" rx="7.9" ry="5.1"/>
<ellipse cx="331.0" cy="1914.8" rx="7.9" ry="5.1"/>
<ellipse cx="331.0" cy="1920.8" rx="7.9" ry="5.1"/>
<ellipse cx="287.0" cy="1920.1" rx="7.9" ry="5.1"/>
<ellipse cx="305.2" cy="1918.6" rx="7.9" ry="5.1"/>
<ellipse cx="226.4" cy="1925.4" rx="7.9" ry="5.1"/>
<ellipse cx="244.6" cy="1924.6" rx="7.9" ry="5.1"/>
<ellipse cx="259.7" cy="1929.2" rx="7.9" ry="5.1"/>
<ellipse cx="296.1" cy="1929.9" rx="7.9" ry="5.1"/>
<ellipse cx="223.4" cy="1936.0" rx="7.9" ry="5.1"/>
<ellipse cx="312.8" cy="1936.0" rx="7.9" ry="5.1"/>
<ellipse cx="418.9" cy="1931.4" rx="7.9" ry="5.1"/>
<ellipse cx="232.4" cy="1943.3" rx="7.9" ry="5.1"/>
<ellipse cx="241.5" cy="1948.6" rx="7.9" ry="5.1"/>
<ellipse cx="259.7" cy="1947.1" rx="7.9" ry="5.1"/>
<ellipse cx="270.4" cy="1952.4" rx="7.9" ry="5.1"/>
<ellipse cx="287.0" cy="1944.9" rx="7.9" ry="5.1"/>
<ellipse cx="287.0" cy="1956.2" rx="7.9" ry="5.1"/>
<ellipse cx="312.8" cy="1954.7" rx="7.9" ry="5.1"/>
<ellipse cx="331.0" cy="1955.5" rx="7.9" ry="5.1"/>
<ellipse cx="229.4" cy="1957.7" rx="7.9" ry="5.1"/>
<ellipse cx="227.9" cy="1965.3" rx="7.9" ry="5.1"/>
<ellipse cx="243.1" cy="1970.6" rx="7.9" ry="5.1"/>
<ellipse cx="260.5" cy="1965.3" rx="7.9" ry="5.1"/>
<ellipse cx="287.0" cy="1965.3" rx="7.9" ry="5.1"/>
<ellipse cx="287.0" cy="1972.9" rx="7.9" ry="5.1"/>
<ellipse cx="300.7" cy="1965.3" rx="7.9" ry="5.1"/>
<ellipse cx="305.2" cy="1973.7" rx="7.9" ry="5.1"/>
<ellipse cx="314.3" cy="1969.1" rx="7.9" ry="5.1"/>
<ellipse cx="331.0" cy="1979.0" rx="7.9" ry="5.1"/>
<ellipse cx="348.4" cy="1972.9" rx="7.9" ry="5.1"/>
<ellipse cx="224.9" cy="1977.4" rx="7.9" ry="5.1"/>
<ellipse cx="211.2" cy="1985.8" rx="7.9" ry="5.1"/>
<ellipse cx="234.0" cy="1990.3" rx="7.9" ry="5.1"/>
<ellipse cx="221.1" cy="1997.2" rx="7.9" ry="5.1"/>
<ellipse cx="211.2" cy="2004.0" rx="7.9" ry="5.1"/>
<ellipse cx="268.8" cy="1991.1" rx="7.9" ry="5.1"/>
<ellipse cx="268.8" cy="2001.7" rx="7.9" ry="5.1"/>
<ellipse cx="287.0" cy="1986.5" rx="7.9" ry="5.1"/>
<ellipse cx="296.1" cy="1998.7" rx="7.9" ry="5.1"/>
<ellipse cx="305.2" cy="1997.2" rx="7.9" ry="5.1"/>
<ellipse cx="229.4" cy="2011.6" rx="7.9" ry="5.1"/>
<ellipse cx="243.1" cy="2013.1" rx="7.9" ry="5.1"/>
<ellipse cx="260.5" cy="2011.6" rx="7.9" ry="5.1"/>
<ellipse cx="287.0" cy="2019.1" rx="7.9" ry="5.1"/>
<ellipse cx="348.4" cy="2015.4" rx="7.9" ry="5.1"/>
<ellipse cx="384.1" cy="2006.3" rx="7.9" ry="5.1"/>
<ellipse cx="418.9" cy="2028.2" rx="7.9" ry="5.1"/>
<ellipse cx="226.4" cy="2041.1" rx="7.9" ry="5.1"/>
<ellipse cx="234.0" cy="2047.2" rx="7.9" ry="5.1"/>
<ellipse cx="220.3" cy="2044.2" rx="7.9" ry="5.1"/>
<ellipse cx="260.5" cy="2042.6" rx="7.9" ry="5.1"/>
<ellipse cx="277.9" cy="2045.7" rx="7.9" ry="5.1"/>
<ellipse cx="277.9" cy="2054.8" rx="7.9" ry="5.1"/>
<ellipse cx="296.1" cy="2042.6" rx="7.9" ry="5.1"/>
<ellipse cx="305.2" cy="2047.2" rx="7.9" ry="5.1"/>
<ellipse cx="296.1" cy="2056.3" rx="7.9" ry="5.1"/>
<ellipse cx="252.2" cy="2055.5" rx="7.9" ry="5.1"/>
<ellipse cx="212.7" cy="2059.3" rx="7.9" ry="5.1"/>
<ellipse cx="212.7" cy="2065.4" rx="7.9" ry="5.1"/>
<ellipse cx="234.0" cy="2063.1" rx="7.9" ry="5.1"/>
<ellipse cx="260.5" cy="2065.4" rx="7.9" ry="5.1"/>
<ellipse cx="261.3" cy="2072.2" rx="7.9" ry="5.1"/>
<ellipse cx="216.5" cy="2079.9" rx="7.9" ry="5.1"/>
<ellipse cx="234.7" cy="2076.8" rx="7.9" ry="5.1"/>
<ellipse cx="230.2" cy="2085.9" rx="7.9" ry="5.1"/>
<ellipse cx="268.8" cy="2081.4" rx="7.9" ry="5.1"/>
<ellipse cx="287.0" cy="2085.2" rx="7.9" ry="5.1"/>
<ellipse cx="313.6" cy="2095.5" rx="7.9" ry="5.1"/>
<ellipse cx="216.5" cy="2098.8" rx="7.9" ry="5.1"/>
<ellipse cx="225.6" cy="2102.1" rx="7.9" ry="5.1"/>
<ellipse cx="269.6" cy="2114.3" rx="7.9" ry="5.1"/>
<ellipse cx="331.0" cy="2118.2" rx="7.9" ry="5.1"/>
<ellipse cx="418.9" cy="2117.3" rx="7.9" ry="5.1"/>
<ellipse cx="278.7" cy="2126.1" rx="7.9" ry="5.1"/>
<ellipse cx="216.5" cy="2139.0" rx="7.9" ry="5.1"/>
<ellipse cx="212.0" cy="2146.6" rx="7.9" ry="5.1"/>
<ellipse cx="252.2" cy="2139.0" rx="7.9" ry="5.1"/>
<ellipse cx="313.6" cy="2143.5" rx="7.9" ry="5.1"/>
<ellipse cx="331.0" cy="2154.6" rx="7.9" ry="5.1"/>
<ellipse cx="296.1" cy="2164.0" rx="7.9" ry="5.1"/>
<ellipse cx="418.9" cy="2167.3" rx="7.9" ry="5.1"/>
<ellipse cx="216.5" cy="2176.9" rx="7.9" ry="5.1"/>
<ellipse cx="269.6" cy="2188.6" rx="7.9" ry="5.1"/>
<ellipse cx="212.7" cy="2204.9" rx="7.9" ry="5.1"/>
<ellipse cx="221.6" cy="2275.4" rx="7.9" ry="5.1"/>
<ellipse cx="212.5" cy="2283.5" rx="7.9" ry="5.1"/>
<ellipse cx="213.0" cy="2324.1" rx="7.9" ry="5.1"/>
<ellipse cx="216.5" cy="2392.5" rx="7.9" ry="5.1"/>
<ellipse cx="212.5" cy="2451.9" rx="7.9" ry="5.1"/>
<ellipse cx="629.4" cy="1653.5" rx="7.9" ry="5.1"/>
<ellipse cx="629.4" cy="1678.7" rx="7.9" ry="5.1"/>
<ellipse cx="629.4" cy="1774.3" rx="7.9" ry="5.1"/>
<ellipse cx="629.4" cy="1781.8" rx="7.9" ry="5.1"/>
<ellipse cx="629.4" cy="1796.1" rx="7.9" ry="5.1"/>
<ellipse cx="629.4" cy="1830.5" rx="7.9" ry="5.1"/>
<ellipse cx="629.4" cy="1866.5" rx="7.9" ry="5.1"/>
<ellipse cx="629.4" cy="1871.6" rx="7.9" ry="5.1"/>
<ellipse cx="629.4" cy="1882.5" rx="7.9" ry="5.1"/>
<ellipse cx="629.4" cy="1946.2" rx="7.9" ry="5.1"/>
<ellipse cx="629.4" cy="1953.8" rx="7.9" ry="5.1"/>
<ellipse cx="629.4" cy="1961.3" rx="7.9" ry="5.1"/>
<ellipse cx="629.4" cy="2184.5" rx="7.9" ry="5.1"/>
<ellipse cx="629.4" cy="2237.4" rx="7.9" ry="5.1"/>
<ellipse cx="629.4" cy="2324.6" rx="7.9" ry="5.1"/>
<ellipse cx="840.3" cy="1565.3" rx="7.9" ry="5.1"/>
<ellipse cx="840.3" cy="1783.3" rx="7.9" ry="5.1"/>
<ellipse cx="840.3" cy="1789.2" rx="7.9" ry="5.1"/>
<ellipse cx="840.3" cy="1795.1" rx="7.9" ry="5.1"/>
<ellipse cx="840.3" cy="1812.7" rx="7.9" ry="5.1"/>
<ellipse cx="840.3" cy="1821.9" rx="7.9" ry="5.1"/>
<ellipse cx="840.3" cy="1829.4" rx="7.9" ry="5.1"/>
<ellipse cx="840.3" cy="1837.0" rx="7.9" ry="5.1"/>
<ellipse cx="840.3" cy="1860.5" rx="7.9" ry="5.1"/>
<ellipse cx="840.3" cy="1887.3" rx="7.9" ry="5.1"/>
<ellipse cx="840.3" cy="1931.1" rx="7.9" ry="5.1"/>
<ellipse cx="840.3" cy="1999.0" rx="7.9" ry="5.1"/>
<ellipse cx="840.3" cy="2168.4" rx="7.9" ry="5.1"/>
<ellipse cx="223.9" cy="1712.9" rx="7.9" ry="5.1"/>
<ellipse cx="220.5" cy="1737.5" rx="7.9" ry="5.1"/>
<ellipse cx="296.9" cy="1741.8" rx="7.9" ry="5.1"/>
<ellipse cx="269.7" cy="1738.4" rx="7.9" ry="5.1"/>
<ellipse cx="242.5" cy="1777.4" rx="7.9" ry="5.1"/>
<ellipse cx="230.7" cy="1790.2" rx="7.9" ry="5.1"/>
<ellipse cx="299.4" cy="1787.6" rx="7.9" ry="5.1"/>
<ellipse cx="250.2" cy="1821.2" rx="7.9" ry="5.1"/>
<ellipse cx="271.4" cy="1827.2" rx="7.9" ry="5.1"/>
<ellipse cx="249.3" cy="1854.3" rx="7.9" ry="5.1"/>
<ellipse cx="262.9" cy="1859.4" rx="7.9" ry="5.1"/>
<ellipse cx="279.9" cy="1867.9" rx="7.9" ry="5.1"/>
<ellipse cx="220.5" cy="1884.9" rx="7.9" ry="5.1"/>
<ellipse cx="239.1" cy="1884.9" rx="7.9" ry="5.1"/>
<ellipse cx="304.5" cy="1882.8" rx="7.9" ry="5.1"/>
<ellipse cx="216.2" cy="1866.2" rx="7.9" ry="5.1"/>
<ellipse cx="252.7" cy="1928.7" rx="7.9" ry="5.1"/>
<ellipse cx="223.0" cy="1982.2" rx="7.9" ry="5.1"/>
<ellipse cx="313.0" cy="1941.4" rx="7.9" ry="5.1"/>
<ellipse cx="295.2" cy="1971.1" rx="7.9" ry="5.1"/>
<ellipse cx="235.7" cy="1935.5" rx="7.9" ry="5.1"/>
</g>
<line x1="170" y1="1876.1" x2="872.5" y2="1876.1" stroke="#4a4a4a" stroke-width="3" stroke-dasharray="13.5 7.6" stroke-dashoffset="15.7"/>
<text x="151.7" y="1466.6" font-size="48.5" text-anchor="end" textLength="61.42" lengthAdjust="spacingAndGlyphs">2.5</text>
<text x="151.7" y="1554.3" font-size="48.5" text-anchor="end" textLength="24.59" lengthAdjust="spacingAndGlyphs">2</text>
<text x="151.7" y="1642.0" font-size="48.5" text-anchor="end" textLength="61.42" lengthAdjust="spacingAndGlyphs">1.5</text>
<text x="151.7" y="1729.6999999999998" font-size="48.5" text-anchor="end" textLength="24.59" lengthAdjust="spacingAndGlyphs">1</text>
<text x="151.7" y="1817.3999999999999" font-size="48.5" text-anchor="end" textLength="61.42" lengthAdjust="spacingAndGlyphs">0.5</text>
<text x="151.7" y="1905.1" font-size="48.5" text-anchor="end" textLength="24.59" lengthAdjust="spacingAndGlyphs">0</text>
<text x="151.7" y="1992.8" font-size="48.5" text-anchor="end" textLength="76.27" lengthAdjust="spacingAndGlyphs">-0.5</text>
<text x="151.7" y="2080.5" font-size="48.5" text-anchor="end" textLength="39.44" lengthAdjust="spacingAndGlyphs">-1</text>
<text x="151.7" y="2168.2" font-size="48.5" text-anchor="end" textLength="39.44" lengthAdjust="spacingAndGlyphs">-2</text>
<text x="151.7" y="2255.9" font-size="48.5" text-anchor="end" textLength="76.27" lengthAdjust="spacingAndGlyphs">-2.5</text>
<text x="151.7" y="2343.6" font-size="48.5" text-anchor="end" textLength="24.59" lengthAdjust="spacingAndGlyphs">3</text>
<text x="151.7" y="2431.3" font-size="48.5" text-anchor="end" textLength="61.42" lengthAdjust="spacingAndGlyphs">3.5</text>
<text x="214.5" y="2541.5" font-size="48.5" text-anchor="middle" textLength="24.59" lengthAdjust="spacingAndGlyphs">0</text>
<text x="391.9" y="2541.5" font-size="48.5" text-anchor="middle" textLength="49.17" lengthAdjust="spacingAndGlyphs">10</text>
<text x="560" y="2541.5" font-size="48.5" text-anchor="middle" textLength="49.17" lengthAdjust="spacingAndGlyphs">20</text>
<text x="738.5" y="2541.5" font-size="48.5" text-anchor="middle" textLength="49.17" lengthAdjust="spacingAndGlyphs">30</text>
<text x="525.8" y="2614" font-size="60" text-anchor="middle" font-weight="bold" textLength="206.61" lengthAdjust="spacingAndGlyphs">Time (h)</text>
<text transform="translate(62,1916.34) rotate(-90)" x="0" y="0" font-size="66" font-weight="bold" text-anchor="middle" textLength="177.31" lengthAdjust="spacingAndGlyphs">IWRES</text>
<text x="808" y="1486" font-size="60" text-anchor="middle" font-weight="bold" textLength="32.20" lengthAdjust="spacingAndGlyphs">b</text>
<rect x="1180" y="1404" width="732" height="1095" fill="#fbfbfd"/>
<line x1="1213.3" y1="1404" x2="1213.3" y2="2499" stroke="#e2e2e8" stroke-width="2"/>
<line x1="1341.9" y1="1404" x2="1341.9" y2="2499" stroke="#e2e2e8" stroke-width="2"/>
<line x1="1470.5" y1="1404" x2="1470.5" y2="2499" stroke="#e2e2e8" stroke-width="2"/>
<line x1="1599.1" y1="1404" x2="1599.1" y2="2499" stroke="#e2e2e8" stroke-width="2"/>
<line x1="1727.7" y1="1404" x2="1727.7" y2="2499" stroke="#e2e2e8" stroke-width="2"/>
<line x1="1856.3" y1="1404" x2="1856.3" y2="2499" stroke="#e2e2e8" stroke-width="2"/>
<line x1="1180" y1="1434.0" x2="1912" y2="1434.0" stroke="#e2e2e8" stroke-width="2"/>
<line x1="1180" y1="1521.6" x2="1912" y2="1521.6" stroke="#e2e2e8" stroke-width="2"/>
<line x1="1180" y1="1609.2" x2="1912" y2="1609.2" stroke="#e2e2e8" stroke-width="2"/>
<line x1="1180" y1="1696.8" x2="1912" y2="1696.8" stroke="#e2e2e8" stroke-width="2"/>
<line x1="1180" y1="1784.4" x2="1912" y2="1784.4" stroke="#e2e2e8" stroke-width="2"/>
<line x1="1180" y1="1872.0" x2="1912" y2="1872.0" stroke="#e2e2e8" stroke-width="2"/>
<line x1="1180" y1="1959.6" x2="1912" y2="1959.6" stroke="#e2e2e8" stroke-width="2"/>
<line x1="1180" y1="2047.2" x2="1912" y2="2047.2" stroke="#e2e2e8" stroke-width="2"/>
<line x1="1180" y1="2134.8" x2="1912" y2="2134.8" stroke="#e2e2e8" stroke-width="2"/>
<line x1="1180" y1="2222.4" x2="1912" y2="2222.4" stroke="#e2e2e8" stroke-width="2"/>
<line x1="1180" y1="2310.0" x2="1912" y2="2310.0" stroke="#e2e2e8" stroke-width="2"/>
<line x1="1180" y1="2397.6" x2="1912" y2="2397.6" stroke="#e2e2e8" stroke-width="2"/>
<line x1="1180" y1="2485.2" x2="1912" y2="2485.2" stroke="#e2e2e8" stroke-width="2"/>
<line x1="1180" y1="1404" x2="1180" y2="2499" stroke="#878787" stroke-width="2.2"/>
<line x1="1180" y1="2499" x2="1912" y2="2499" stroke="#878787" stroke-width="2.2"/>
<line x1="1170" y1="1404.0" x2="1180" y2="1404.0" stroke="#878787" stroke-width="2"/>
<line x1="1170" y1="1434.0" x2="1180" y2="1434.0" stroke="#878787" stroke-width="2"/>
<line x1="1170" y1="1521.6" x2="1180" y2="1521.6" stroke="#878787" stroke-width="2"/>
<line x1="1170" y1="1609.2" x2="1180" y2="1609.2" stroke="#878787" stroke-width="2"/>
<line x1="1170" y1="1696.8" x2="1180" y2="1696.8" stroke="#878787" stroke-width="2"/>
<line x1="1170" y1="1784.4" x2="1180" y2="1784.4" stroke="#878787" stroke-width="2"/>
<line x1="1170" y1="1872.0" x2="1180" y2="1872.0" stroke="#878787" stroke-width="2"/>
<line x1="1170" y1="1959.6" x2="1180" y2="1959.6" stroke="#878787" stroke-width="2"/>
<line x1="1170" y1="2047.2" x2="1180" y2="2047.2" stroke="#878787" stroke-width="2"/>
<line x1="1170" y1="2134.8" x2="1180" y2="2134.8" stroke="#878787" stroke-width="2"/>
<line x1="1170" y1="2222.4" x2="1180" y2="2222.4" stroke="#878787" stroke-width="2"/>
<line x1="1170" y1="2310.0" x2="1180" y2="2310.0" stroke="#878787" stroke-width="2"/>
<line x1="1170" y1="2397.6" x2="1180" y2="2397.6" stroke="#878787" stroke-width="2"/>
<line x1="1170" y1="2485.2" x2="1180" y2="2485.2" stroke="#878787" stroke-width="2"/>
<line x1="1170" y1="2499.0" x2="1180" y2="2499.0" stroke="#878787" stroke-width="2"/>
<line x1="1180.0" y1="2499" x2="1180.0" y2="2503" stroke="#878787" stroke-width="2"/>
<line x1="1213.3" y1="2499" x2="1213.3" y2="2503" stroke="#878787" stroke-width="2"/>
<line x1="1341.9" y1="2499" x2="1341.9" y2="2503" stroke="#878787" stroke-width="2"/>
<line x1="1470.5" y1="2499" x2="1470.5" y2="2503" stroke="#878787" stroke-width="2"/>
<line x1="1599.1" y1="2499" x2="1599.1" y2="2503" stroke="#878787" stroke-width="2"/>
<line x1="1727.7" y1="2499" x2="1727.7" y2="2503" stroke="#878787" stroke-width="2"/>
<line x1="1856.3" y1="2499" x2="1856.3" y2="2503" stroke="#878787" stroke-width="2"/>
<line x1="1912.0" y1="2499" x2="1912.0" y2="2503" stroke="#878787" stroke-width="2"/>
<g fill="#3c7cba">
<ellipse cx="1393.8" cy="1506.2" rx="7.9" ry="5.1"/>
<ellipse cx="1269.4" cy="1528.5" rx="7.9" ry="5.1"/>
<ellipse cx="1278.1" cy="1531.7" rx="7.9" ry="5.1"/>
<ellipse cx="1239.6" cy="1561.5" rx="7.9" ry="5.1"/>
<ellipse cx="1262.9" cy="1566.6" rx="7.9" ry="5.1"/>
<ellipse cx="1266.5" cy="1563.7" rx="7.9" ry="5.1"/>
<ellipse cx="1359.6" cy="1561.5" rx="7.9" ry="5.1"/>
<ellipse cx="1315.3" cy="1589.9" rx="7.9" ry="5.1"/>
<ellipse cx="1331.3" cy="1603.0" rx="7.9" ry="5.1"/>
<ellipse cx="1366.2" cy="1618.3" rx="7.9" ry="5.1"/>
<ellipse cx="1380.0" cy="1615.4" rx="7.9" ry="5.1"/>
<ellipse cx="1415.0" cy="1609.6" rx="7.9" ry="5.1"/>
<ellipse cx="1417.9" cy="1634.3" rx="7.9" ry="5.1"/>
<ellipse cx="1637.6" cy="1453.1" rx="7.9" ry="5.1"/>
<ellipse cx="1484.8" cy="1530.2" rx="7.9" ry="5.1"/>
<ellipse cx="1620.8" cy="1580.4" rx="7.9" ry="5.1"/>
<ellipse cx="1628.1" cy="1580.4" rx="7.9" ry="5.1"/>
<ellipse cx="1835.0" cy="1527.3" rx="7.9" ry="5.1"/>
<ellipse cx="1799.2" cy="1562.4" rx="7.9" ry="5.1"/>
<ellipse cx="1672.1" cy="1591.2" rx="7.9" ry="5.1"/>
<ellipse cx="1807.7" cy="1615.3" rx="7.9" ry="5.1"/>
<ellipse cx="1785.1" cy="1629.4" rx="7.9" ry="5.1"/>
<ellipse cx="1246.9" cy="1650.3" rx="7.9" ry="5.1"/>
<ellipse cx="1318.9" cy="1647.4" rx="7.9" ry="5.1"/>
<ellipse cx="1401.9" cy="1657.6" rx="7.9" ry="5.1"/>
<ellipse cx="1306.5" cy="1662.7" rx="7.9" ry="5.1"/>
<ellipse cx="1333.5" cy="1668.2" rx="7.9" ry="5.1"/>
<ellipse cx="1356.7" cy="1669.9" rx="7.9" ry="5.1"/>
<ellipse cx="1366.9" cy="1668.5" rx="7.9" ry="5.1"/>
<ellipse cx="1257.8" cy="1675.0" rx="7.9" ry="5.1"/>
<ellipse cx="1346.5" cy="1678.7" rx="7.9" ry="5.1"/>
<ellipse cx="1350.2" cy="1686.7" rx="7.9" ry="5.1"/>
<ellipse cx="1307.3" cy="1681.6" rx="7.9" ry="5.1"/>
<ellipse cx="1318.9" cy="1691.0" rx="7.9" ry="5.1"/>
<ellipse cx="1284.0" cy="1696.1" rx="7.9" ry="5.1"/>
<ellipse cx="1404.0" cy="1695.8" rx="7.9" ry="5.1"/>
<ellipse cx="1423.7" cy="1699.8" rx="7.9" ry="5.1"/>
<ellipse cx="1239.6" cy="1709.5" rx="7.9" ry="5.1"/>
<ellipse cx="1311.6" cy="1708.5" rx="7.9" ry="5.1"/>
<ellipse cx="1325.4" cy="1704.9" rx="7.9" ry="5.1"/>
<ellipse cx="1350.9" cy="1707.0" rx="7.9" ry="5.1"/>
<ellipse cx="1350.9" cy="1715.0" rx="7.9" ry="5.1"/>
<ellipse cx="1369.8" cy="1715.0" rx="7.9" ry="5.1"/>
<ellipse cx="1275.2" cy="1719.4" rx="7.9" ry="5.1"/>
<ellipse cx="1284.0" cy="1718.7" rx="7.9" ry="5.1"/>
<ellipse cx="1264.3" cy="1729.3" rx="7.9" ry="5.1"/>
<ellipse cx="1317.4" cy="1726.4" rx="7.9" ry="5.1"/>
<ellipse cx="1403.3" cy="1720.1" rx="7.9" ry="5.1"/>
<ellipse cx="1391.7" cy="1731.8" rx="7.9" ry="5.1"/>
<ellipse cx="1409.1" cy="1728.9" rx="7.9" ry="5.1"/>
<ellipse cx="1272.3" cy="1741.2" rx="7.9" ry="5.1"/>
<ellipse cx="1270.9" cy="1747.8" rx="7.9" ry="5.1"/>
<ellipse cx="1306.5" cy="1749.2" rx="7.9" ry="5.1"/>
<ellipse cx="1334.9" cy="1751.4" rx="7.9" ry="5.1"/>
<ellipse cx="1384.4" cy="1753.6" rx="7.9" ry="5.1"/>
<ellipse cx="1257.0" cy="1759.4" rx="7.9" ry="5.1"/>
<ellipse cx="1340.7" cy="1761.6" rx="7.9" ry="5.1"/>
<ellipse cx="1324.7" cy="1763.1" rx="7.9" ry="5.1"/>
<ellipse cx="1313.1" cy="1766.7" rx="7.9" ry="5.1"/>
<ellipse cx="1302.9" cy="1771.8" rx="7.9" ry="5.1"/>
<ellipse cx="1359.6" cy="1765.3" rx="7.9" ry="5.1"/>
<ellipse cx="1365.5" cy="1774.0" rx="7.9" ry="5.1"/>
<ellipse cx="1375.7" cy="1776.9" rx="7.9" ry="5.1"/>
<ellipse cx="1420.8" cy="1773.3" rx="7.9" ry="5.1"/>
<ellipse cx="1234.5" cy="1771.8" rx="7.9" ry="5.1"/>
<ellipse cx="1250.5" cy="1769.6" rx="7.9" ry="5.1"/>
<ellipse cx="1243.2" cy="1776.9" rx="7.9" ry="5.1"/>
<ellipse cx="1257.8" cy="1775.4" rx="7.9" ry="5.1"/>
<ellipse cx="1333.5" cy="1779.1" rx="7.9" ry="5.1"/>
<ellipse cx="1334.9" cy="1789.3" rx="7.9" ry="5.1"/>
<ellipse cx="1301.4" cy="1783.5" rx="7.9" ry="5.1"/>
<ellipse cx="1394.6" cy="1785.6" rx="7.9" ry="5.1"/>
<ellipse cx="1227.2" cy="1786.4" rx="7.9" ry="5.1"/>
<ellipse cx="1233.0" cy="1792.2" rx="7.9" ry="5.1"/>
<ellipse cx="1251.2" cy="1792.2" rx="7.9" ry="5.1"/>
<ellipse cx="1310.2" cy="1792.2" rx="7.9" ry="5.1"/>
<ellipse cx="1318.9" cy="1799.5" rx="7.9" ry="5.1"/>
<ellipse cx="1288.3" cy="1795.1" rx="7.9" ry="5.1"/>
<ellipse cx="1281.1" cy="1800.9" rx="7.9" ry="5.1"/>
<ellipse cx="1384.4" cy="1799.5" rx="7.9" ry="5.1"/>
<ellipse cx="1356.7" cy="1803.8" rx="7.9" ry="5.1"/>
<ellipse cx="1358.2" cy="1811.1" rx="7.9" ry="5.1"/>
<ellipse cx="1232.3" cy="1808.2" rx="7.9" ry="5.1"/>
<ellipse cx="1256.3" cy="1814.7" rx="7.9" ry="5.1"/>
<ellipse cx="1323.3" cy="1813.3" rx="7.9" ry="5.1"/>
<ellipse cx="1337.8" cy="1816.9" rx="7.9" ry="5.1"/>
<ellipse cx="1343.6" cy="1825.7" rx="7.9" ry="5.1"/>
<ellipse cx="1368.4" cy="1819.1" rx="7.9" ry="5.1"/>
<ellipse cx="1401.9" cy="1812.6" rx="7.9" ry="5.1"/>
<ellipse cx="1393.1" cy="1822.0" rx="7.9" ry="5.1"/>
<ellipse cx="1420.8" cy="1819.8" rx="7.9" ry="5.1"/>
<ellipse cx="1227.2" cy="1819.8" rx="7.9" ry="5.1"/>
<ellipse cx="1221.4" cy="1828.6" rx="7.9" ry="5.1"/>
<ellipse cx="1270.9" cy="1826.4" rx="7.9" ry="5.1"/>
<ellipse cx="1305.8" cy="1830.0" rx="7.9" ry="5.1"/>
<ellipse cx="1374.2" cy="1828.6" rx="7.9" ry="5.1"/>
<ellipse cx="1467.3" cy="1658.3" rx="7.9" ry="5.1"/>
<ellipse cx="1476.8" cy="1669.2" rx="7.9" ry="5.1"/>
<ellipse cx="1639.0" cy="1684.5" rx="7.9" ry="5.1"/>
<ellipse cx="1658.7" cy="1693.2" rx="7.9" ry="5.1"/>
<ellipse cx="1553.2" cy="1704.6" rx="7.9" ry="5.1"/>
<ellipse cx="1543.7" cy="1712.9" rx="7.9" ry="5.1"/>
<ellipse cx="1652.9" cy="1713.6" rx="7.9" ry="5.1"/>
<ellipse cx="1525.5" cy="1724.1" rx="7.9" ry="5.1"/>
<ellipse cx="1581.5" cy="1724.1" rx="7.9" ry="5.1"/>
<ellipse cx="1539.3" cy="1734.7" rx="7.9" ry="5.1"/>
<ellipse cx="1531.3" cy="1739.8" rx="7.9" ry="5.1"/>
<ellipse cx="1643.4" cy="1735.4" rx="7.9" ry="5.1"/>
<ellipse cx="1645.6" cy="1742.7" rx="7.9" ry="5.1"/>
<ellipse cx="1543.7" cy="1754.3" rx="7.9" ry="5.1"/>
<ellipse cx="1551.7" cy="1755.8" rx="7.9" ry="5.1"/>
<ellipse cx="1559.0" cy="1765.3" rx="7.9" ry="5.1"/>
<ellipse cx="1595.4" cy="1753.6" rx="7.9" ry="5.1"/>
<ellipse cx="1444.0" cy="1770.4" rx="7.9" ry="5.1"/>
<ellipse cx="1427.3" cy="1779.1" rx="7.9" ry="5.1"/>
<ellipse cx="1510.2" cy="1776.2" rx="7.9" ry="5.1"/>
<ellipse cx="1495.7" cy="1785.6" rx="7.9" ry="5.1"/>
<ellipse cx="1513.1" cy="1785.6" rx="7.9" ry="5.1"/>
<ellipse cx="1528.4" cy="1783.5" rx="7.9" ry="5.1"/>
<ellipse cx="1549.5" cy="1784.2" rx="7.9" ry="5.1"/>
<ellipse cx="1461.5" cy="1785.6" rx="7.9" ry="5.1"/>
<ellipse cx="1638.3" cy="1779.8" rx="7.9" ry="5.1"/>
<ellipse cx="1632.5" cy="1784.9" rx="7.9" ry="5.1"/>
<ellipse cx="1624.5" cy="1798.0" rx="7.9" ry="5.1"/>
<ellipse cx="1484.0" cy="1801.6" rx="7.9" ry="5.1"/>
<ellipse cx="1546.6" cy="1803.1" rx="7.9" ry="5.1"/>
<ellipse cx="1470.9" cy="1811.1" rx="7.9" ry="5.1"/>
<ellipse cx="1461.5" cy="1817.7" rx="7.9" ry="5.1"/>
<ellipse cx="1484.0" cy="1819.1" rx="7.9" ry="5.1"/>
<ellipse cx="1508.8" cy="1817.7" rx="7.9" ry="5.1"/>
<ellipse cx="1505.9" cy="1825.7" rx="7.9" ry="5.1"/>
<ellipse cx="1552.4" cy="1814.0" rx="7.9" ry="5.1"/>
<ellipse cx="1549.5" cy="1822.0" rx="7.9" ry="5.1"/>
<ellipse cx="1564.1" cy="1824.2" rx="7.9" ry="5.1"/>
<ellipse cx="1651.4" cy="1817.7" rx="7.9" ry="5.1"/>
<ellipse cx="1433.1" cy="1821.3" rx="7.9" ry="5.1"/>
<ellipse cx="1445.5" cy="1829.3" rx="7.9" ry="5.1"/>
<ellipse cx="1487.7" cy="1831.5" rx="7.9" ry="5.1"/>
<ellipse cx="1593.9" cy="1830.8" rx="7.9" ry="5.1"/>
<ellipse cx="1721.2" cy="1677.9" rx="7.9" ry="5.1"/>
<ellipse cx="1782.8" cy="1681.0" rx="7.9" ry="5.1"/>
<ellipse cx="1679.2" cy="1700.5" rx="7.9" ry="5.1"/>
<ellipse cx="1743.1" cy="1693.4" rx="7.9" ry="5.1"/>
<ellipse cx="1796.8" cy="1697.3" rx="7.9" ry="5.1"/>
<ellipse cx="1849.0" cy="1695.0" rx="7.9" ry="5.1"/>
<ellipse cx="1689.3" cy="1714.5" rx="7.9" ry="5.1"/>
<ellipse cx="1729.8" cy="1713.7" rx="7.9" ry="5.1"/>
<ellipse cx="1743.1" cy="1720.4" rx="7.9" ry="5.1"/>
<ellipse cx="1775.0" cy="1721.5" rx="7.9" ry="5.1"/>
<ellipse cx="1828.0" cy="1734.0" rx="7.9" ry="5.1"/>
<ellipse cx="1678.4" cy="1765.6" rx="7.9" ry="5.1"/>
<ellipse cx="1697.9" cy="1770.3" rx="7.9" ry="5.1"/>
<ellipse cx="1715.0" cy="1765.6" rx="7.9" ry="5.1"/>
<ellipse cx="1704.9" cy="1780.7" rx="7.9" ry="5.1"/>
<ellipse cx="1686.2" cy="1787.0" rx="7.9" ry="5.1"/>
<ellipse cx="1795.3" cy="1776.8" rx="7.9" ry="5.1"/>
<ellipse cx="1803.1" cy="1775.3" rx="7.9" ry="5.1"/>
<ellipse cx="1764.1" cy="1790.5" rx="7.9" ry="5.1"/>
<ellipse cx="1789.8" cy="1798.3" rx="7.9" ry="5.1"/>
<ellipse cx="1847.5" cy="1799.4" rx="7.9" ry="5.1"/>
<ellipse cx="1879.4" cy="1804.9" rx="7.9" ry="5.1"/>
<ellipse cx="1878.7" cy="1819.7" rx="7.9" ry="5.1"/>
<ellipse cx="1722.8" cy="1823.6" rx="7.9" ry="5.1"/>
<ellipse cx="1748.5" cy="1833.7" rx="7.9" ry="5.1"/>
<ellipse cx="1336.4" cy="1835.1" rx="7.9" ry="5.1"/>
<ellipse cx="1399.7" cy="1835.8" rx="7.9" ry="5.1"/>
<ellipse cx="1397.5" cy="1842.4" rx="7.9" ry="5.1"/>
<ellipse cx="1237.4" cy="1837.3" rx="7.9" ry="5.1"/>
<ellipse cx="1346.5" cy="1839.5" rx="7.9" ry="5.1"/>
<ellipse cx="1298.5" cy="1840.2" rx="7.9" ry="5.1"/>
<ellipse cx="1276.7" cy="1846.7" rx="7.9" ry="5.1"/>
<ellipse cx="1294.2" cy="1848.2" rx="7.9" ry="5.1"/>
<ellipse cx="1333.5" cy="1848.2" rx="7.9" ry="5.1"/>
<ellipse cx="1218.5" cy="1856.9" rx="7.9" ry="5.1"/>
<ellipse cx="1237.4" cy="1861.3" rx="7.9" ry="5.1"/>
<ellipse cx="1250.5" cy="1862.0" rx="7.9" ry="5.1"/>
<ellipse cx="1260.7" cy="1857.7" rx="7.9" ry="5.1"/>
<ellipse cx="1266.5" cy="1863.5" rx="7.9" ry="5.1"/>
<ellipse cx="1282.5" cy="1856.9" rx="7.9" ry="5.1"/>
<ellipse cx="1315.3" cy="1855.5" rx="7.9" ry="5.1"/>
<ellipse cx="1349.5" cy="1859.1" rx="7.9" ry="5.1"/>
<ellipse cx="1367.7" cy="1854.7" rx="7.9" ry="5.1"/>
<ellipse cx="1387.3" cy="1859.8" rx="7.9" ry="5.1"/>
<ellipse cx="1407.7" cy="1858.4" rx="7.9" ry="5.1"/>
<ellipse cx="1211.2" cy="1871.5" rx="7.9" ry="5.1"/>
<ellipse cx="1218.5" cy="1884.6" rx="7.9" ry="5.1"/>
<ellipse cx="1231.6" cy="1880.9" rx="7.9" ry="5.1"/>
<ellipse cx="1241.8" cy="1878.8" rx="7.9" ry="5.1"/>
<ellipse cx="1256.3" cy="1881.7" rx="7.9" ry="5.1"/>
<ellipse cx="1285.4" cy="1871.5" rx="7.9" ry="5.1"/>
<ellipse cx="1279.6" cy="1879.5" rx="7.9" ry="5.1"/>
<ellipse cx="1289.8" cy="1879.5" rx="7.9" ry="5.1"/>
<ellipse cx="1302.9" cy="1870.8" rx="7.9" ry="5.1"/>
<ellipse cx="1315.3" cy="1876.6" rx="7.9" ry="5.1"/>
<ellipse cx="1369.8" cy="1875.8" rx="7.9" ry="5.1"/>
<ellipse cx="1388.8" cy="1876.6" rx="7.9" ry="5.1"/>
<ellipse cx="1409.1" cy="1872.2" rx="7.9" ry="5.1"/>
<ellipse cx="1407.7" cy="1879.5" rx="7.9" ry="5.1"/>
<ellipse cx="1420.8" cy="1884.6" rx="7.9" ry="5.1"/>
<ellipse cx="1401.9" cy="1891.1" rx="7.9" ry="5.1"/>
<ellipse cx="1394.6" cy="1894.8" rx="7.9" ry="5.1"/>
<ellipse cx="1258.5" cy="1894.8" rx="7.9" ry="5.1"/>
<ellipse cx="1243.2" cy="1902.0" rx="7.9" ry="5.1"/>
<ellipse cx="1221.4" cy="1906.8" rx="7.9" ry="5.1"/>
<ellipse cx="1299.2" cy="1895.5" rx="7.9" ry="5.1"/>
<ellipse cx="1318.9" cy="1902.8" rx="7.9" ry="5.1"/>
<ellipse cx="1338.5" cy="1896.9" rx="7.9" ry="5.1"/>
<ellipse cx="1337.8" cy="1907.9" rx="7.9" ry="5.1"/>
<ellipse cx="1295.6" cy="1910.8" rx="7.9" ry="5.1"/>
<ellipse cx="1227.2" cy="1926.8" rx="7.9" ry="5.1"/>
<ellipse cx="1262.9" cy="1927.2" rx="7.9" ry="5.1"/>
<ellipse cx="1295.6" cy="1927.2" rx="7.9" ry="5.1"/>
<ellipse cx="1385.1" cy="1921.7" rx="7.9" ry="5.1"/>
<ellipse cx="1375.7" cy="1933.3" rx="7.9" ry="5.1"/>
<ellipse cx="1361.8" cy="1939.2" rx="7.9" ry="5.1"/>
<ellipse cx="1386.6" cy="1941.3" rx="7.9" ry="5.1"/>
<ellipse cx="1311.6" cy="1945.0" rx="7.9" ry="5.1"/>
<ellipse cx="1330.5" cy="1954.4" rx="7.9" ry="5.1"/>
<ellipse cx="1237.4" cy="1956.6" rx="7.9" ry="5.1"/>
<ellipse cx="1401.9" cy="1952.3" rx="7.9" ry="5.1"/>
<ellipse cx="1391.7" cy="1957.3" rx="7.9" ry="5.1"/>
<ellipse cx="1423.7" cy="1952.3" rx="7.9" ry="5.1"/>
<ellipse cx="1235.9" cy="1963.9" rx="7.9" ry="5.1"/>
<ellipse cx="1249.0" cy="1969.7" rx="7.9" ry="5.1"/>
<ellipse cx="1269.4" cy="1969.7" rx="7.9" ry="5.1"/>
<ellipse cx="1309.4" cy="1966.8" rx="7.9" ry="5.1"/>
<ellipse cx="1330.5" cy="1966.8" rx="7.9" ry="5.1"/>
<ellipse cx="1339.3" cy="1969.0" rx="7.9" ry="5.1"/>
<ellipse cx="1406.2" cy="1964.6" rx="7.9" ry="5.1"/>
<ellipse cx="1387.3" cy="1969.7" rx="7.9" ry="5.1"/>
<ellipse cx="1250.5" cy="1977.0" rx="7.9" ry="5.1"/>
<ellipse cx="1256.3" cy="1981.4" rx="7.9" ry="5.1"/>
<ellipse cx="1272.3" cy="1973.4" rx="7.9" ry="5.1"/>
<ellipse cx="1369.8" cy="1975.5" rx="7.9" ry="5.1"/>
<ellipse cx="1358.9" cy="1982.1" rx="7.9" ry="5.1"/>
<ellipse cx="1401.9" cy="1986.5" rx="7.9" ry="5.1"/>
<ellipse cx="1353.8" cy="1995.2" rx="7.9" ry="5.1"/>
<ellipse cx="1230.8" cy="1994.5" rx="7.9" ry="5.1"/>
<ellipse cx="1241.8" cy="2000.3" rx="7.9" ry="5.1"/>
<ellipse cx="1287.6" cy="1992.3" rx="7.9" ry="5.1"/>
<ellipse cx="1300.0" cy="2003.2" rx="7.9" ry="5.1"/>
<ellipse cx="1382.9" cy="2009.0" rx="7.9" ry="5.1"/>
<ellipse cx="1422.2" cy="2007.6" rx="7.9" ry="5.1"/>
<ellipse cx="1300.7" cy="2024.3" rx="7.9" ry="5.1"/>
<ellipse cx="1466.6" cy="1849.6" rx="7.9" ry="5.1"/>
<ellipse cx="1504.4" cy="1846.0" rx="7.9" ry="5.1"/>
<ellipse cx="1484.8" cy="1855.5" rx="7.9" ry="5.1"/>
<ellipse cx="1497.9" cy="1860.6" rx="7.9" ry="5.1"/>
<ellipse cx="1552.4" cy="1856.2" rx="7.9" ry="5.1"/>
<ellipse cx="1572.8" cy="1862.0" rx="7.9" ry="5.1"/>
<ellipse cx="1596.1" cy="1862.0" rx="7.9" ry="5.1"/>
<ellipse cx="1431.6" cy="1865.7" rx="7.9" ry="5.1"/>
<ellipse cx="1456.4" cy="1867.1" rx="7.9" ry="5.1"/>
<ellipse cx="1468.0" cy="1867.1" rx="7.9" ry="5.1"/>
<ellipse cx="1524.8" cy="1864.9" rx="7.9" ry="5.1"/>
<ellipse cx="1535.0" cy="1867.8" rx="7.9" ry="5.1"/>
<ellipse cx="1441.8" cy="1878.0" rx="7.9" ry="5.1"/>
<ellipse cx="1452.7" cy="1881.7" rx="7.9" ry="5.1"/>
<ellipse cx="1602.7" cy="1876.6" rx="7.9" ry="5.1"/>
<ellipse cx="1579.4" cy="1882.4" rx="7.9" ry="5.1"/>
<ellipse cx="1483.3" cy="1886.0" rx="7.9" ry="5.1"/>
<ellipse cx="1477.5" cy="1894.0" rx="7.9" ry="5.1"/>
<ellipse cx="1453.5" cy="1901.3" rx="7.9" ry="5.1"/>
<ellipse cx="1441.8" cy="1909.3" rx="7.9" ry="5.1"/>
<ellipse cx="1462.2" cy="1905.7" rx="7.9" ry="5.1"/>
<ellipse cx="1497.1" cy="1915.9" rx="7.9" ry="5.1"/>
<ellipse cx="1504.4" cy="1925.3" rx="7.9" ry="5.1"/>
<ellipse cx="1561.9" cy="1925.3" rx="7.9" ry="5.1"/>
<ellipse cx="1631.0" cy="1915.9" rx="7.9" ry="5.1"/>
<ellipse cx="1658.7" cy="1915.9" rx="7.9" ry="5.1"/>
<ellipse cx="1442.6" cy="1932.6" rx="7.9" ry="5.1"/>
<ellipse cx="1536.4" cy="1937.0" rx="7.9" ry="5.1"/>
<ellipse cx="1551.0" cy="1943.5" rx="7.9" ry="5.1"/>
<ellipse cx="1454.2" cy="1952.3" rx="7.9" ry="5.1"/>
<ellipse cx="1429.5" cy="1961.0" rx="7.9" ry="5.1"/>
<ellipse cx="1495.7" cy="1959.5" rx="7.9" ry="5.1"/>
<ellipse cx="1496.4" cy="1965.4" rx="7.9" ry="5.1"/>
<ellipse cx="1537.2" cy="1970.4" rx="7.9" ry="5.1"/>
<ellipse cx="1587.4" cy="1969.7" rx="7.9" ry="5.1"/>
<ellipse cx="1609.2" cy="1962.4" rx="7.9" ry="5.1"/>
<ellipse cx="1655.8" cy="1961.0" rx="7.9" ry="5.1"/>
<ellipse cx="1487.7" cy="1982.8" rx="7.9" ry="5.1"/>
<ellipse cx="1557.5" cy="1998.1" rx="7.9" ry="5.1"/>
<ellipse cx="1587.4" cy="1993.0" rx="7.9" ry="5.1"/>
<ellipse cx="1494.2" cy="2005.4" rx="7.9" ry="5.1"/>
<ellipse cx="1511.7" cy="2015.6" rx="7.9" ry="5.1"/>
<ellipse cx="1580.1" cy="2011.9" rx="7.9" ry="5.1"/>
<ellipse cx="1619.4" cy="2009.0" rx="7.9" ry="5.1"/>
<ellipse cx="1673.7" cy="1848.7" rx="7.9" ry="5.1"/>
<ellipse cx="1684.6" cy="1858.8" rx="7.9" ry="5.1"/>
<ellipse cx="1767.2" cy="1857.3" rx="7.9" ry="5.1"/>
<ellipse cx="1828.8" cy="1854.2" rx="7.9" ry="5.1"/>
<ellipse cx="1686.2" cy="1872.9" rx="7.9" ry="5.1"/>
<ellipse cx="1732.2" cy="1896.2" rx="7.9" ry="5.1"/>
<ellipse cx="1723.6" cy="1904.0" rx="7.9" ry="5.1"/>
<ellipse cx="1687.0" cy="1926.6" rx="7.9" ry="5.1"/>
<ellipse cx="1710.3" cy="1926.6" rx="7.9" ry="5.1"/>
<ellipse cx="1750.1" cy="1923.2" rx="7.9" ry="5.1"/>
<ellipse cx="1665.9" cy="1948.8" rx="7.9" ry="5.1"/>
<ellipse cx="1694.7" cy="1950.8" rx="7.9" ry="5.1"/>
<ellipse cx="1692.4" cy="1987.4" rx="7.9" ry="5.1"/>
<ellipse cx="1264.3" cy="2034.5" rx="7.9" ry="5.1"/>
<ellipse cx="1270.1" cy="2041.0" rx="7.9" ry="5.1"/>
<ellipse cx="1399.7" cy="2038.4" rx="7.9" ry="5.1"/>
<ellipse cx="1262.9" cy="2059.6" rx="7.9" ry="5.1"/>
<ellipse cx="1295.6" cy="2061.4" rx="7.9" ry="5.1"/>
<ellipse cx="1308.0" cy="2055.9" rx="7.9" ry="5.1"/>
<ellipse cx="1340.7" cy="2073.0" rx="7.9" ry="5.1"/>
<ellipse cx="1373.5" cy="2082.1" rx="7.9" ry="5.1"/>
<ellipse cx="1264.3" cy="2098.5" rx="7.9" ry="5.1"/>
<ellipse cx="1286.1" cy="2095.3" rx="7.9" ry="5.1"/>
<ellipse cx="1313.8" cy="2091.2" rx="7.9" ry="5.1"/>
<ellipse cx="1305.8" cy="2113.1" rx="7.9" ry="5.1"/>
<ellipse cx="1353.8" cy="2135.6" rx="7.9" ry="5.1"/>
<ellipse cx="1236.7" cy="2142.6" rx="7.9" ry="5.1"/>
<ellipse cx="1404.8" cy="2150.9" rx="7.9" ry="5.1"/>
<ellipse cx="1238.8" cy="2164.0" rx="7.9" ry="5.1"/>
<ellipse cx="1309.4" cy="2163.3" rx="7.9" ry="5.1"/>
<ellipse cx="1261.4" cy="2173.2" rx="7.9" ry="5.1"/>
<ellipse cx="1243.2" cy="2180.0" rx="7.9" ry="5.1"/>
<ellipse cx="1325.4" cy="2201.1" rx="7.9" ry="5.1"/>
<ellipse cx="1433.4" cy="2052.4" rx="7.9" ry="5.1"/>
<ellipse cx="1467.7" cy="2045.3" rx="7.9" ry="5.1"/>
<ellipse cx="1487.1" cy="2051.3" rx="7.9" ry="5.1"/>
<ellipse cx="1542.3" cy="2038.4" rx="7.9" ry="5.1"/>
<ellipse cx="1566.2" cy="2038.4" rx="7.9" ry="5.1"/>
<ellipse cx="1560.2" cy="2044.4" rx="7.9" ry="5.1"/>
<ellipse cx="1537.8" cy="2051.0" rx="7.9" ry="5.1"/>
<ellipse cx="1630.3" cy="2051.8" rx="7.9" ry="5.1"/>
<ellipse cx="1630.3" cy="2062.9" rx="7.9" ry="5.1"/>
<ellipse cx="1658.7" cy="2042.3" rx="7.9" ry="5.1"/>
<ellipse cx="1673.6" cy="2044.4" rx="7.9" ry="5.1"/>
<ellipse cx="1691.5" cy="2041.4" rx="7.9" ry="5.1"/>
<ellipse cx="1596.0" cy="2075.7" rx="7.9" ry="5.1"/>
<ellipse cx="1642.3" cy="2078.1" rx="7.9" ry="5.1"/>
<ellipse cx="1657.2" cy="2069.2" rx="7.9" ry="5.1"/>
<ellipse cx="1857.1" cy="2039.3" rx="7.9" ry="5.1"/>
<ellipse cx="1843.6" cy="2081.7" rx="7.9" ry="5.1"/>
<ellipse cx="1449.8" cy="2113.9" rx="7.9" ry="5.1"/>
<ellipse cx="1434.9" cy="2139.3" rx="7.9" ry="5.1"/>
<ellipse cx="1661.1" cy="2110.0" rx="7.9" ry="5.1"/>
<ellipse cx="1671.5" cy="2122.0" rx="7.9" ry="5.1"/>
<ellipse cx="1606.5" cy="2134.8" rx="7.9" ry="5.1"/>
<ellipse cx="1863.6" cy="2159.8" rx="7.9" ry="5.1"/>
<ellipse cx="1522.0" cy="2184.9" rx="7.9" ry="5.1"/>
<ellipse cx="1256.0" cy="2233.1" rx="7.9" ry="5.1"/>
<ellipse cx="1234.8" cy="2272.0" rx="7.9" ry="5.1"/>
<ellipse cx="1255.3" cy="2279.6" rx="7.9" ry="5.1"/>
<ellipse cx="1260.3" cy="2324.8" rx="7.9" ry="5.1"/>
<ellipse cx="1272.3" cy="2320.0" rx="7.9" ry="5.1"/>
<ellipse cx="1314.9" cy="2388.8" rx="7.9" ry="5.1"/>
<ellipse cx="1269.1" cy="2448.1" rx="7.9" ry="5.1"/>
</g>
<line x1="1172" y1="1872.2" x2="1906" y2="1872.2" stroke="#505050" stroke-width="2.6" stroke-dasharray="14.5 7.8" stroke-dashoffset="17.8"/>
<text x="1159.9" y="1466.5" font-size="48.5" text-anchor="end" textLength="61.42" lengthAdjust="spacingAndGlyphs">2.5</text>
<text x="1159.9" y="1554.1" font-size="48.5" text-anchor="end" textLength="24.59" lengthAdjust="spacingAndGlyphs">2</text>
<text x="1159.9" y="1641.7" font-size="48.5" text-anchor="end" textLength="61.42" lengthAdjust="spacingAndGlyphs">1.5</text>
<text x="1159.9" y="1729.3" font-size="48.5" text-anchor="end" textLength="24.59" lengthAdjust="spacingAndGlyphs">1</text>
<text x="1159.9" y="1816.9" font-size="48.5" text-anchor="end" textLength="61.42" lengthAdjust="spacingAndGlyphs">0.5</text>
<text x="1159.9" y="1904.5" font-size="48.5" text-anchor="end" textLength="24.59" lengthAdjust="spacingAndGlyphs">0</text>
<text x="1159.9" y="1992.1" font-size="48.5" text-anchor="end" textLength="76.27" lengthAdjust="spacingAndGlyphs">-0.5</text>
<text x="1159.9" y="2079.7" font-size="48.5" text-anchor="end" textLength="39.44" lengthAdjust="spacingAndGlyphs">-1</text>
<text x="1159.9" y="2167.3" font-size="48.5" text-anchor="end" textLength="39.44" lengthAdjust="spacingAndGlyphs">-2</text>
<text x="1159.9" y="2254.9" font-size="48.5" text-anchor="end" textLength="76.27" lengthAdjust="spacingAndGlyphs">-2.5</text>
<text x="1159.9" y="2342.5" font-size="48.5" text-anchor="end" textLength="24.59" lengthAdjust="spacingAndGlyphs">3</text>
<text x="1159.9" y="2430.1" font-size="48.5" text-anchor="end" textLength="61.42" lengthAdjust="spacingAndGlyphs">3.5</text>
<text x="1192.2" y="2559.5" font-size="48.5" text-anchor="middle" textLength="24.59" lengthAdjust="spacingAndGlyphs">0</text>
<text x="1316.4" y="2559.5" font-size="48.5" text-anchor="middle" textLength="73.75" lengthAdjust="spacingAndGlyphs">200</text>
<text x="1442.6" y="2559.5" font-size="48.5" text-anchor="middle" textLength="73.75" lengthAdjust="spacingAndGlyphs">400</text>
<text x="1582" y="2559.5" font-size="48.5" text-anchor="middle" textLength="73.75" lengthAdjust="spacingAndGlyphs">600</text>
<text x="1708.6" y="2559.5" font-size="48.5" text-anchor="middle" textLength="73.75" lengthAdjust="spacingAndGlyphs">800</text>
<text x="1827" y="2559.5" font-size="48.5" text-anchor="middle" textLength="98.33" lengthAdjust="spacingAndGlyphs">1000</text>
<text x="1575.9" y="2641.5" font-size="59.8" text-anchor="middle" font-weight="bold" textLength="506.80" lengthAdjust="spacingAndGlyphs">Concentration (µg/l)</text>
<text transform="translate(1082,1907.64) rotate(-90)" x="0" y="0" font-size="66" font-weight="bold" text-anchor="middle" textLength="177.31" lengthAdjust="spacingAndGlyphs">IWRES</text>
<text x="1827" y="1483.5" font-size="60" text-anchor="middle" font-weight="bold" textLength="25.11" lengthAdjust="spacingAndGlyphs">c</text>
</svg>
</body></html>
